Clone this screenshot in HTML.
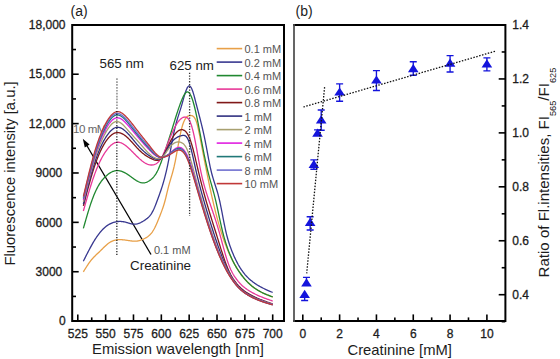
<!DOCTYPE html>
<html><head><meta charset="utf-8"><style>html,body{margin:0;padding:0;background:#fff;width:560px;height:359px;overflow:hidden}</style></head>
<body><svg width="560" height="359" viewBox="0 0 560 359" style="display:block;font-family:'Liberation Sans', sans-serif">
<rect width="560" height="359" fill="#fff"/>
<line x1="151" y1="254.5" x2="86.5" y2="145" stroke="#000" stroke-width="1.3"/>
<path d="M82.8 138.8 L89.6 144.6 L84.8 147.4 Z" fill="#000"/>
<text x="72.90" y="132.60" font-size="11.6" text-anchor="start" fill="#666" letter-spacing="-0.45">10 mM</text>
<path d="M83.37 271.81 L83.93 270.91 L84.48 270.02 L85.04 269.13 L85.60 268.24 L86.15 267.37 L86.71 266.50 L87.27 265.65 L87.82 264.81 L88.38 263.99 L88.94 263.19 L89.49 262.41 L90.05 261.65 L90.61 260.91 L91.16 260.21 L91.72 259.53 L92.28 258.87 L92.83 258.24 L93.39 257.64 L93.95 257.05 L94.51 256.48 L95.06 255.92 L95.62 255.38 L96.18 254.84 L96.73 254.31 L97.29 253.79 L97.85 253.27 L98.40 252.75 L98.96 252.22 L99.52 251.69 L100.07 251.15 L100.63 250.61 L101.19 250.05 L101.74 249.49 L102.30 248.93 L102.86 248.37 L103.42 247.81 L103.97 247.26 L104.53 246.71 L105.09 246.18 L105.64 245.66 L106.20 245.15 L106.76 244.66 L107.31 244.19 L107.87 243.75 L108.43 243.33 L108.98 242.93 L109.54 242.56 L110.10 242.22 L110.65 241.90 L111.21 241.60 L111.77 241.33 L112.32 241.08 L112.88 240.85 L113.44 240.64 L114.00 240.46 L114.55 240.29 L115.11 240.15 L115.67 240.02 L116.22 239.92 L116.78 239.83 L117.34 239.76 L117.89 239.71 L118.45 239.67 L119.01 239.64 L119.56 239.63 L120.12 239.63 L120.68 239.64 L121.23 239.67 L121.79 239.70 L122.35 239.74 L122.90 239.79 L123.46 239.84 L124.02 239.91 L124.58 239.97 L125.13 240.05 L125.69 240.12 L126.25 240.20 L126.80 240.29 L127.36 240.37 L127.92 240.46 L128.47 240.54 L129.03 240.63 L129.59 240.71 L130.14 240.79 L130.70 240.86 L131.26 240.93 L131.81 240.99 L132.37 241.05 L132.93 241.09 L133.48 241.13 L134.04 241.15 L134.60 241.16 L135.16 241.16 L135.71 241.14 L136.27 241.11 L136.83 241.06 L137.38 240.99 L137.94 240.90 L138.50 240.79 L139.05 240.66 L139.61 240.52 L140.17 240.35 L140.72 240.17 L141.28 239.98 L141.84 239.76 L142.39 239.53 L142.95 239.29 L143.51 239.04 L144.07 238.77 L144.62 238.50 L145.18 238.21 L145.74 237.91 L146.29 237.59 L146.85 237.25 L147.41 236.88 L147.96 236.48 L148.52 236.05 L149.08 235.58 L149.63 235.07 L150.19 234.51 L150.75 233.91 L151.30 233.25 L151.86 232.53 L152.42 231.76 L152.97 230.92 L153.53 230.00 L154.09 229.02 L154.65 227.97 L155.20 226.86 L155.76 225.70 L156.32 224.48 L156.87 223.21 L157.43 221.91 L157.99 220.57 L158.54 219.21 L159.10 217.82 L159.66 216.41 L160.21 215.00 L160.77 213.57 L161.33 212.12 L161.88 210.63 L162.44 209.08 L163.00 207.47 L163.55 205.77 L164.11 203.97 L164.67 202.05 L165.23 200.00 L165.78 197.81 L166.34 195.52 L166.90 193.19 L167.45 190.85 L168.01 188.56 L168.57 186.38 L169.12 184.31 L169.68 182.36 L170.24 180.47 L170.79 178.61 L171.35 176.76 L171.91 174.89 L172.46 172.95 L173.02 170.93 L173.58 168.77 L174.14 166.47 L174.69 163.97 L175.25 161.29 L175.81 158.45 L176.36 155.49 L176.92 152.45 L177.48 149.36 L178.03 146.26 L178.59 143.19 L179.15 140.19 L179.70 137.29 L180.26 134.52 L180.82 131.93 L181.37 129.55 L181.93 127.40 L182.49 125.48 L183.04 123.78 L183.60 122.27 L184.16 120.96 L184.72 119.82 L185.27 118.85 L185.83 118.03 L186.39 117.35 L186.94 116.79 L187.50 116.36 L188.06 116.03 L188.61 115.79 L189.17 115.62 L189.73 115.53 L190.28 115.49 L190.84 115.50 L191.40 115.55 L191.95 115.66 L192.51 115.87 L193.07 116.20 L193.62 116.66 L194.18 117.28 L194.74 118.08 L195.30 119.10 L195.85 120.34 L196.41 121.83 L196.97 123.60 L197.52 125.66 L198.08 127.98 L198.64 130.50 L199.19 133.18 L199.75 135.98 L200.31 138.84 L200.86 141.73 L201.42 144.62 L201.98 147.52 L202.53 150.41 L203.09 153.29 L203.65 156.17 L204.20 159.05 L204.76 161.91 L205.32 164.75 L205.88 167.59 L206.43 170.40 L206.99 173.19 L207.55 175.97 L208.10 178.71 L208.66 181.43 L209.22 184.12 L209.77 186.78 L210.33 189.40 L210.89 191.99 L211.44 194.54 L212.00 197.05 L212.56 199.51 L213.11 201.93 L213.67 204.31 L214.23 206.64 L214.79 208.92 L215.34 211.16 L215.90 213.36 L216.46 215.51 L217.01 217.62 L217.57 219.68 L218.13 221.70 L218.68 223.68 L219.24 225.61 L219.80 227.50 L220.35 229.35 L220.91 231.16 L221.47 232.93 L222.02 234.66 L222.58 236.34 L223.14 237.99 L223.69 239.59 L224.25 241.16 L224.81 242.69 L225.37 244.18 L225.92 245.63 L226.48 247.06 L227.04 248.44 L227.59 249.79 L228.15 251.12 L228.71 252.40 L229.26 253.66 L229.82 254.89 L230.38 256.09 L230.93 257.26 L231.49 258.41 L232.05 259.52 L232.60 260.62 L233.16 261.68 L233.72 262.72 L234.27 263.74 L234.83 264.73 L235.39 265.70 L235.95 266.65 L236.50 267.58 L237.06 268.48 L237.62 269.36 L238.17 270.23 L238.73 271.07 L239.29 271.90 L239.84 272.70 L240.40 273.49 L240.96 274.26 L241.51 275.01 L242.07 275.75 L242.63 276.46 L243.18 277.16 L243.74 277.84 L244.30 278.51 L244.85 279.16 L245.41 279.79 L245.97 280.41 L246.53 281.01 L247.08 281.60 L247.64 282.17 L248.20 282.72 L248.75 283.26 L249.31 283.79 L249.87 284.30 L250.42 284.80 L250.98 285.28 L251.54 285.75 L252.09 286.21 L252.65 286.65 L253.21 287.08 L253.76 287.50 L254.32 287.91 L254.88 288.31 L255.44 288.70 L255.99 289.07 L256.55 289.44 L257.11 289.79 L257.66 290.14 L258.22 290.47 L258.78 290.80 L259.33 291.12 L259.89 291.43 L260.45 291.73 L261.00 292.02 L261.56 292.31 L262.12 292.59 L262.67 292.87 L263.23 293.13 L263.79 293.40 L264.34 293.65 L264.90 293.90 L265.46 294.15 L266.02 294.39 L266.57 294.63 L267.13 294.86 L267.69 295.09 L268.24 295.32 L268.80 295.55 L269.36 295.77 L269.91 295.99 L270.47 296.21 L271.03 296.42 L271.58 296.64 L272.14 296.86 L272.70 297.07" fill="none" stroke="#e8a048" stroke-width="1.3" stroke-linejoin="round"/>
<path d="M83.37 261.19 L83.93 260.08 L84.48 258.97 L85.04 257.86 L85.60 256.76 L86.15 255.65 L86.71 254.56 L87.27 253.47 L87.82 252.39 L88.38 251.31 L88.94 250.25 L89.49 249.19 L90.05 248.15 L90.61 247.12 L91.16 246.11 L91.72 245.10 L92.28 244.12 L92.83 243.15 L93.39 242.20 L93.95 241.27 L94.51 240.35 L95.06 239.46 L95.62 238.59 L96.18 237.75 L96.73 236.92 L97.29 236.11 L97.85 235.33 L98.40 234.57 L98.96 233.83 L99.52 233.12 L100.07 232.42 L100.63 231.75 L101.19 231.11 L101.74 230.48 L102.30 229.88 L102.86 229.30 L103.42 228.74 L103.97 228.21 L104.53 227.70 L105.09 227.21 L105.64 226.75 L106.20 226.31 L106.76 225.89 L107.31 225.50 L107.87 225.12 L108.43 224.77 L108.98 224.44 L109.54 224.13 L110.10 223.83 L110.65 223.56 L111.21 223.30 L111.77 223.07 L112.32 222.85 L112.88 222.65 L113.44 222.46 L114.00 222.30 L114.55 222.14 L115.11 222.01 L115.67 221.88 L116.22 221.78 L116.78 221.69 L117.34 221.61 L117.89 221.55 L118.45 221.50 L119.01 221.47 L119.56 221.45 L120.12 221.45 L120.68 221.46 L121.23 221.49 L121.79 221.53 L122.35 221.59 L122.90 221.66 L123.46 221.74 L124.02 221.84 L124.58 221.96 L125.13 222.08 L125.69 222.23 L126.25 222.38 L126.80 222.54 L127.36 222.70 L127.92 222.87 L128.47 223.04 L129.03 223.20 L129.59 223.36 L130.14 223.52 L130.70 223.66 L131.26 223.79 L131.81 223.91 L132.37 224.02 L132.93 224.10 L133.48 224.16 L134.04 224.20 L134.60 224.21 L135.16 224.19 L135.71 224.14 L136.27 224.06 L136.83 223.95 L137.38 223.82 L137.94 223.66 L138.50 223.48 L139.05 223.27 L139.61 223.04 L140.17 222.79 L140.72 222.53 L141.28 222.24 L141.84 221.94 L142.39 221.62 L142.95 221.29 L143.51 220.94 L144.07 220.59 L144.62 220.22 L145.18 219.85 L145.74 219.46 L146.29 219.06 L146.85 218.64 L147.41 218.19 L147.96 217.70 L148.52 217.18 L149.08 216.61 L149.63 216.00 L150.19 215.32 L150.75 214.59 L151.30 213.78 L151.86 212.90 L152.42 211.95 L152.97 210.91 L153.53 209.77 L154.09 208.55 L154.65 207.25 L155.20 205.88 L155.76 204.46 L156.32 203.00 L156.87 201.51 L157.43 200.00 L157.99 198.49 L158.54 196.98 L159.10 195.45 L159.66 193.90 L160.21 192.32 L160.77 190.70 L161.33 189.04 L161.88 187.34 L162.44 185.58 L163.00 183.75 L163.55 181.86 L164.11 179.88 L164.67 177.83 L165.23 175.68 L165.78 173.44 L166.34 171.09 L166.90 168.64 L167.45 166.06 L168.01 163.36 L168.57 160.55 L169.12 157.65 L169.68 154.68 L170.24 151.68 L170.79 148.65 L171.35 145.64 L171.91 142.65 L172.46 139.72 L173.02 136.87 L173.58 134.13 L174.14 131.51 L174.69 129.04 L175.25 126.73 L175.81 124.56 L176.36 122.50 L176.92 120.55 L177.48 118.68 L178.03 116.87 L178.59 115.11 L179.15 113.37 L179.70 111.63 L180.26 109.87 L180.82 108.09 L181.37 106.24 L181.93 104.33 L182.49 102.35 L183.04 100.33 L183.60 98.32 L184.16 96.36 L184.72 94.48 L185.27 92.72 L185.83 91.10 L186.39 89.67 L186.94 88.43 L187.50 87.41 L188.06 86.64 L188.61 86.13 L189.17 85.92 L189.73 86.02 L190.28 86.42 L190.84 87.11 L191.40 88.06 L191.95 89.26 L192.51 90.69 L193.07 92.33 L193.62 94.16 L194.18 96.14 L194.74 98.24 L195.30 100.41 L195.85 102.60 L196.41 104.76 L196.97 106.90 L197.52 109.03 L198.08 111.14 L198.64 113.25 L199.19 115.37 L199.75 117.51 L200.31 119.67 L200.86 121.86 L201.42 124.10 L201.98 126.39 L202.53 128.74 L203.09 131.15 L203.65 133.65 L204.20 136.22 L204.76 138.90 L205.32 141.67 L205.88 144.54 L206.43 147.47 L206.99 150.44 L207.55 153.41 L208.10 156.37 L208.66 159.29 L209.22 162.14 L209.77 164.89 L210.33 167.52 L210.89 170.00 L211.44 172.31 L212.00 174.47 L212.56 176.49 L213.11 178.41 L213.67 180.25 L214.23 182.02 L214.79 183.76 L215.34 185.48 L215.90 187.21 L216.46 188.97 L217.01 190.79 L217.57 192.68 L218.13 194.67 L218.68 196.79 L219.24 199.05 L219.80 201.48 L220.35 204.07 L220.91 206.79 L221.47 209.60 L222.02 212.48 L222.58 215.39 L223.14 218.30 L223.69 221.18 L224.25 224.00 L224.81 226.72 L225.37 229.31 L225.92 231.76 L226.48 234.06 L227.04 236.23 L227.59 238.28 L228.15 240.21 L228.71 242.05 L229.26 243.79 L229.82 245.44 L230.38 247.02 L230.93 248.53 L231.49 249.99 L232.05 251.40 L232.60 252.77 L233.16 254.10 L233.72 255.40 L234.27 256.66 L234.83 257.88 L235.39 259.07 L235.95 260.22 L236.50 261.33 L237.06 262.42 L237.62 263.46 L238.17 264.48 L238.73 265.46 L239.29 266.41 L239.84 267.33 L240.40 268.22 L240.96 269.08 L241.51 269.91 L242.07 270.71 L242.63 271.48 L243.18 272.23 L243.74 272.95 L244.30 273.65 L244.85 274.32 L245.41 274.97 L245.97 275.59 L246.53 276.20 L247.08 276.79 L247.64 277.35 L248.20 277.90 L248.75 278.43 L249.31 278.94 L249.87 279.44 L250.42 279.92 L250.98 280.39 L251.54 280.85 L252.09 281.29 L252.65 281.73 L253.21 282.15 L253.76 282.56 L254.32 282.96 L254.88 283.36 L255.44 283.74 L255.99 284.11 L256.55 284.48 L257.11 284.83 L257.66 285.18 L258.22 285.52 L258.78 285.85 L259.33 286.17 L259.89 286.49 L260.45 286.80 L261.00 287.10 L261.56 287.40 L262.12 287.69 L262.67 287.97 L263.23 288.25 L263.79 288.52 L264.34 288.79 L264.90 289.06 L265.46 289.32 L266.02 289.58 L266.57 289.83 L267.13 290.08 L267.69 290.33 L268.24 290.57 L268.80 290.81 L269.36 291.05 L269.91 291.29 L270.47 291.53 L271.03 291.76 L271.58 292.00 L272.14 292.23 L272.70 292.46" fill="none" stroke="#383890" stroke-width="1.3" stroke-linejoin="round"/>
<path d="M83.37 228.39 L83.93 226.43 L84.48 224.47 L85.04 222.52 L85.60 220.58 L86.15 218.66 L86.71 216.75 L87.27 214.86 L87.82 213.00 L88.38 211.17 L88.94 209.36 L89.49 207.59 L90.05 205.86 L90.61 204.17 L91.16 202.53 L91.72 200.93 L92.28 199.39 L92.83 197.90 L93.39 196.47 L93.95 195.08 L94.51 193.75 L95.06 192.47 L95.62 191.24 L96.18 190.06 L96.73 188.92 L97.29 187.83 L97.85 186.79 L98.40 185.80 L98.96 184.85 L99.52 183.94 L100.07 183.08 L100.63 182.26 L101.19 181.48 L101.74 180.73 L102.30 180.02 L102.86 179.34 L103.42 178.70 L103.97 178.09 L104.53 177.50 L105.09 176.94 L105.64 176.41 L106.20 175.89 L106.76 175.40 L107.31 174.93 L107.87 174.48 L108.43 174.05 L108.98 173.65 L109.54 173.26 L110.10 172.90 L110.65 172.57 L111.21 172.25 L111.77 171.97 L112.32 171.71 L112.88 171.47 L113.44 171.26 L114.00 171.08 L114.55 170.93 L115.11 170.80 L115.67 170.71 L116.22 170.64 L116.78 170.60 L117.34 170.59 L117.89 170.61 L118.45 170.65 L119.01 170.72 L119.56 170.81 L120.12 170.93 L120.68 171.07 L121.23 171.23 L121.79 171.41 L122.35 171.62 L122.90 171.84 L123.46 172.09 L124.02 172.35 L124.58 172.63 L125.13 172.92 L125.69 173.23 L126.25 173.56 L126.80 173.90 L127.36 174.26 L127.92 174.62 L128.47 175.00 L129.03 175.39 L129.59 175.79 L130.14 176.19 L130.70 176.60 L131.26 177.01 L131.81 177.42 L132.37 177.83 L132.93 178.24 L133.48 178.64 L134.04 179.03 L134.60 179.42 L135.16 179.80 L135.71 180.16 L136.27 180.51 L136.83 180.84 L137.38 181.16 L137.94 181.45 L138.50 181.73 L139.05 181.98 L139.61 182.20 L140.17 182.40 L140.72 182.57 L141.28 182.71 L141.84 182.81 L142.39 182.88 L142.95 182.91 L143.51 182.91 L144.07 182.86 L144.62 182.78 L145.18 182.66 L145.74 182.50 L146.29 182.30 L146.85 182.08 L147.41 181.82 L147.96 181.53 L148.52 181.21 L149.08 180.87 L149.63 180.50 L150.19 180.10 L150.75 179.69 L151.30 179.24 L151.86 178.77 L152.42 178.25 L152.97 177.69 L153.53 177.09 L154.09 176.43 L154.65 175.71 L155.20 174.93 L155.76 174.08 L156.32 173.16 L156.87 172.16 L157.43 171.07 L157.99 169.91 L158.54 168.68 L159.10 167.38 L159.66 166.02 L160.21 164.62 L160.77 163.16 L161.33 161.67 L161.88 160.15 L162.44 158.59 L163.00 157.02 L163.55 155.43 L164.11 153.82 L164.67 152.19 L165.23 150.54 L165.78 148.87 L166.34 147.19 L166.90 145.49 L167.45 143.78 L168.01 142.05 L168.57 140.32 L169.12 138.56 L169.68 136.80 L170.24 135.03 L170.79 133.24 L171.35 131.45 L171.91 129.65 L172.46 127.84 L173.02 126.02 L173.58 124.21 L174.14 122.40 L174.69 120.60 L175.25 118.81 L175.81 117.04 L176.36 115.28 L176.92 113.55 L177.48 111.84 L178.03 110.16 L178.59 108.52 L179.15 106.91 L179.70 105.34 L180.26 103.82 L180.82 102.35 L181.37 100.93 L181.93 99.56 L182.49 98.26 L183.04 97.04 L183.60 95.91 L184.16 94.89 L184.72 94.00 L185.27 93.24 L185.83 92.64 L186.39 92.20 L186.94 91.95 L187.50 91.90 L188.06 92.03 L188.61 92.36 L189.17 92.87 L189.73 93.57 L190.28 94.45 L190.84 95.51 L191.40 96.75 L191.95 98.17 L192.51 99.76 L193.07 101.52 L193.62 103.45 L194.18 105.52 L194.74 107.73 L195.30 110.06 L195.85 112.51 L196.41 115.06 L196.97 117.70 L197.52 120.42 L198.08 123.20 L198.64 126.03 L199.19 128.91 L199.75 131.81 L200.31 134.73 L200.86 137.66 L201.42 140.58 L201.98 143.48 L202.53 146.36 L203.09 149.20 L203.65 152.01 L204.20 154.77 L204.76 157.48 L205.32 160.13 L205.88 162.72 L206.43 165.23 L206.99 167.66 L207.55 170.00 L208.10 172.25 L208.66 174.42 L209.22 176.53 L209.77 178.58 L210.33 180.59 L210.89 182.57 L211.44 184.54 L212.00 186.51 L212.56 188.49 L213.11 190.50 L213.67 192.55 L214.23 194.66 L214.79 196.83 L215.34 199.08 L215.90 201.42 L216.46 203.85 L217.01 206.35 L217.57 208.91 L218.13 211.51 L218.68 214.12 L219.24 216.74 L219.80 219.34 L220.35 221.91 L220.91 224.44 L221.47 226.90 L222.02 229.27 L222.58 231.55 L223.14 233.74 L223.69 235.84 L224.25 237.86 L224.81 239.80 L225.37 241.66 L225.92 243.44 L226.48 245.16 L227.04 246.81 L227.59 248.40 L228.15 249.93 L228.71 251.41 L229.26 252.84 L229.82 254.22 L230.38 255.55 L230.93 256.83 L231.49 258.07 L232.05 259.27 L232.60 260.43 L233.16 261.55 L233.72 262.64 L234.27 263.69 L234.83 264.70 L235.39 265.69 L235.95 266.65 L236.50 267.58 L237.06 268.49 L237.62 269.37 L238.17 270.23 L238.73 271.07 L239.29 271.89 L239.84 272.70 L240.40 273.48 L240.96 274.25 L241.51 275.00 L242.07 275.74 L242.63 276.45 L243.18 277.15 L243.74 277.84 L244.30 278.50 L244.85 279.15 L245.41 279.79 L245.97 280.40 L246.53 281.01 L247.08 281.59 L247.64 282.16 L248.20 282.72 L248.75 283.26 L249.31 283.79 L249.87 284.30 L250.42 284.80 L250.98 285.28 L251.54 285.75 L252.09 286.21 L252.65 286.65 L253.21 287.08 L253.76 287.50 L254.32 287.90 L254.88 288.30 L255.44 288.68 L255.99 289.05 L256.55 289.42 L257.11 289.77 L257.66 290.11 L258.22 290.44 L258.78 290.77 L259.33 291.08 L259.89 291.39 L260.45 291.68 L261.00 291.98 L261.56 292.26 L262.12 292.53 L262.67 292.80 L263.23 293.07 L263.79 293.32 L264.34 293.57 L264.90 293.82 L265.46 294.06 L266.02 294.30 L266.57 294.53 L267.13 294.76 L267.69 294.98 L268.24 295.20 L268.80 295.42 L269.36 295.64 L269.91 295.85 L270.47 296.07 L271.03 296.28 L271.58 296.49 L272.14 296.70 L272.70 296.91" fill="none" stroke="#208830" stroke-width="1.3" stroke-linejoin="round"/>
<path d="M83.37 211.00 L83.93 209.04 L84.48 207.08 L85.04 205.13 L85.60 203.18 L86.15 201.24 L86.71 199.31 L87.27 197.40 L87.82 195.50 L88.38 193.61 L88.94 191.75 L89.49 189.91 L90.05 188.09 L90.61 186.29 L91.16 184.53 L91.72 182.79 L92.28 181.08 L92.83 179.41 L93.39 177.78 L93.95 176.18 L94.51 174.62 L95.06 173.11 L95.62 171.64 L96.18 170.21 L96.73 168.81 L97.29 167.46 L97.85 166.15 L98.40 164.88 L98.96 163.64 L99.52 162.45 L100.07 161.29 L100.63 160.16 L101.19 159.08 L101.74 158.02 L102.30 157.00 L102.86 156.02 L103.42 155.07 L103.97 154.15 L104.53 153.26 L105.09 152.41 L105.64 151.58 L106.20 150.79 L106.76 150.02 L107.31 149.29 L107.87 148.59 L108.43 147.93 L108.98 147.29 L109.54 146.69 L110.10 146.13 L110.65 145.60 L111.21 145.11 L111.77 144.65 L112.32 144.23 L112.88 143.85 L113.44 143.51 L114.00 143.20 L114.55 142.94 L115.11 142.72 L115.67 142.54 L116.22 142.40 L116.78 142.30 L117.34 142.25 L117.89 142.23 L118.45 142.26 L119.01 142.33 L119.56 142.44 L120.12 142.58 L120.68 142.75 L121.23 142.96 L121.79 143.20 L122.35 143.47 L122.90 143.76 L123.46 144.09 L124.02 144.44 L124.58 144.81 L125.13 145.21 L125.69 145.62 L126.25 146.06 L126.80 146.51 L127.36 146.98 L127.92 147.47 L128.47 147.97 L129.03 148.48 L129.59 149.00 L130.14 149.53 L130.70 150.07 L131.26 150.62 L131.81 151.17 L132.37 151.73 L132.93 152.29 L133.48 152.86 L134.04 153.42 L134.60 153.99 L135.16 154.55 L135.71 155.11 L136.27 155.67 L136.83 156.22 L137.38 156.77 L137.94 157.31 L138.50 157.83 L139.05 158.35 L139.61 158.86 L140.17 159.36 L140.72 159.84 L141.28 160.31 L141.84 160.76 L142.39 161.19 L142.95 161.60 L143.51 162.00 L144.07 162.38 L144.62 162.73 L145.18 163.06 L145.74 163.37 L146.29 163.66 L146.85 163.92 L147.41 164.16 L147.96 164.37 L148.52 164.55 L149.08 164.70 L149.63 164.83 L150.19 164.92 L150.75 164.99 L151.30 165.02 L151.86 165.01 L152.42 164.98 L152.97 164.91 L153.53 164.80 L154.09 164.65 L154.65 164.47 L155.20 164.24 L155.76 163.97 L156.32 163.64 L156.87 163.27 L157.43 162.84 L157.99 162.35 L158.54 161.80 L159.10 161.18 L159.66 160.49 L160.21 159.74 L160.77 158.91 L161.33 158.00 L161.88 157.02 L162.44 155.96 L163.00 154.83 L163.55 153.64 L164.11 152.41 L164.67 151.12 L165.23 149.80 L165.78 148.45 L166.34 147.07 L166.90 145.68 L167.45 144.27 L168.01 142.86 L168.57 141.46 L169.12 140.06 L169.68 138.68 L170.24 137.33 L170.79 135.99 L171.35 134.68 L171.91 133.40 L172.46 132.15 L173.02 130.94 L173.58 129.76 L174.14 128.62 L174.69 127.52 L175.25 126.47 L175.81 125.46 L176.36 124.51 L176.92 123.60 L177.48 122.76 L178.03 121.97 L178.59 121.23 L179.15 120.55 L179.70 119.93 L180.26 119.37 L180.82 118.87 L181.37 118.43 L181.93 118.04 L182.49 117.72 L183.04 117.45 L183.60 117.25 L184.16 117.10 L184.72 117.02 L185.27 117.02 L185.83 117.10 L186.39 117.28 L186.94 117.56 L187.50 117.97 L188.06 118.51 L188.61 119.20 L189.17 120.05 L189.73 121.06 L190.28 122.26 L190.84 123.65 L191.40 125.25 L191.95 127.06 L192.51 129.07 L193.07 131.28 L193.62 133.66 L194.18 136.20 L194.74 138.88 L195.30 141.70 L195.85 144.64 L196.41 147.65 L196.97 150.73 L197.52 153.83 L198.08 156.94 L198.64 160.03 L199.19 163.07 L199.75 166.03 L200.31 168.89 L200.86 171.62 L201.42 174.22 L201.98 176.68 L202.53 179.03 L203.09 181.28 L203.65 183.42 L204.20 185.47 L204.76 187.44 L205.32 189.34 L205.88 191.17 L206.43 192.94 L206.99 194.67 L207.55 196.37 L208.10 198.03 L208.66 199.67 L209.22 201.31 L209.77 202.93 L210.33 204.56 L210.89 206.18 L211.44 207.80 L212.00 209.42 L212.56 211.05 L213.11 212.69 L213.67 214.35 L214.23 216.01 L214.79 217.70 L215.34 219.40 L215.90 221.13 L216.46 222.88 L217.01 224.67 L217.57 226.48 L218.13 228.32 L218.68 230.20 L219.24 232.12 L219.80 234.09 L220.35 236.09 L220.91 238.12 L221.47 240.17 L222.02 242.24 L222.58 244.30 L223.14 246.36 L223.69 248.41 L224.25 250.43 L224.81 252.42 L225.37 254.36 L225.92 256.25 L226.48 258.08 L227.04 259.84 L227.59 261.52 L228.15 263.12 L228.71 264.63 L229.26 266.06 L229.82 267.42 L230.38 268.71 L230.93 269.93 L231.49 271.08 L232.05 272.18 L232.60 273.22 L233.16 274.21 L233.72 275.15 L234.27 276.04 L234.83 276.90 L235.39 277.71 L235.95 278.49 L236.50 279.25 L237.06 279.97 L237.62 280.67 L238.17 281.35 L238.73 282.00 L239.29 282.63 L239.84 283.23 L240.40 283.82 L240.96 284.38 L241.51 284.92 L242.07 285.45 L242.63 285.95 L243.18 286.44 L243.74 286.91 L244.30 287.37 L244.85 287.81 L245.41 288.23 L245.97 288.64 L246.53 289.04 L247.08 289.43 L247.64 289.80 L248.20 290.17 L248.75 290.53 L249.31 290.87 L249.87 291.21 L250.42 291.54 L250.98 291.87 L251.54 292.19 L252.09 292.50 L252.65 292.81 L253.21 293.11 L253.76 293.40 L254.32 293.69 L254.88 293.97 L255.44 294.25 L255.99 294.52 L256.55 294.78 L257.11 295.04 L257.66 295.30 L258.22 295.55 L258.78 295.80 L259.33 296.04 L259.89 296.28 L260.45 296.51 L261.00 296.75 L261.56 296.97 L262.12 297.20 L262.67 297.42 L263.23 297.63 L263.79 297.85 L264.34 298.06 L264.90 298.27 L265.46 298.48 L266.02 298.68 L266.57 298.88 L267.13 299.08 L267.69 299.28 L268.24 299.48 L268.80 299.67 L269.36 299.87 L269.91 300.06 L270.47 300.26 L271.03 300.45 L271.58 300.64 L272.14 300.83 L272.70 301.02" fill="none" stroke="#e83898" stroke-width="1.3" stroke-linejoin="round"/>
<path d="M83.37 205.89 L83.93 203.76 L84.48 201.64 L85.04 199.52 L85.60 197.40 L86.15 195.29 L86.71 193.20 L87.27 191.12 L87.82 189.06 L88.38 187.01 L88.94 184.99 L89.49 182.98 L90.05 181.01 L90.61 179.06 L91.16 177.14 L91.72 175.26 L92.28 173.40 L92.83 171.59 L93.39 169.82 L93.95 168.08 L94.51 166.39 L95.06 164.75 L95.62 163.16 L96.18 161.60 L96.73 160.10 L97.29 158.64 L97.85 157.22 L98.40 155.84 L98.96 154.51 L99.52 153.22 L100.07 151.97 L100.63 150.77 L101.19 149.60 L101.74 148.48 L102.30 147.40 L102.86 146.35 L103.42 145.35 L103.97 144.38 L104.53 143.45 L105.09 142.56 L105.64 141.71 L106.20 140.89 L106.76 140.11 L107.31 139.37 L107.87 138.66 L108.43 138.00 L108.98 137.36 L109.54 136.77 L110.10 136.22 L110.65 135.70 L111.21 135.22 L111.77 134.79 L112.32 134.39 L112.88 134.02 L113.44 133.70 L114.00 133.42 L114.55 133.18 L115.11 132.97 L115.67 132.81 L116.22 132.69 L116.78 132.61 L117.34 132.56 L117.89 132.56 L118.45 132.60 L119.01 132.67 L119.56 132.78 L120.12 132.93 L120.68 133.10 L121.23 133.32 L121.79 133.56 L122.35 133.83 L122.90 134.13 L123.46 134.47 L124.02 134.82 L124.58 135.21 L125.13 135.62 L125.69 136.05 L126.25 136.51 L126.80 136.99 L127.36 137.49 L127.92 138.00 L128.47 138.54 L129.03 139.09 L129.59 139.66 L130.14 140.24 L130.70 140.84 L131.26 141.44 L131.81 142.05 L132.37 142.67 L132.93 143.29 L133.48 143.91 L134.04 144.54 L134.60 145.16 L135.16 145.78 L135.71 146.40 L136.27 147.02 L136.83 147.62 L137.38 148.22 L137.94 148.80 L138.50 149.38 L139.05 149.94 L139.61 150.48 L140.17 151.01 L140.72 151.52 L141.28 152.02 L141.84 152.50 L142.39 152.97 L142.95 153.42 L143.51 153.86 L144.07 154.29 L144.62 154.70 L145.18 155.10 L145.74 155.48 L146.29 155.86 L146.85 156.22 L147.41 156.57 L147.96 156.90 L148.52 157.23 L149.08 157.54 L149.63 157.85 L150.19 158.14 L150.75 158.42 L151.30 158.69 L151.86 158.95 L152.42 159.20 L152.97 159.44 L153.53 159.67 L154.09 159.88 L154.65 160.05 L155.20 160.20 L155.76 160.31 L156.32 160.38 L156.87 160.40 L157.43 160.37 L157.99 160.28 L158.54 160.12 L159.10 159.89 L159.66 159.59 L160.21 159.20 L160.77 158.73 L161.33 158.17 L161.88 157.51 L162.44 156.76 L163.00 155.93 L163.55 155.03 L164.11 154.06 L164.67 153.04 L165.23 151.97 L165.78 150.87 L166.34 149.74 L166.90 148.58 L167.45 147.42 L168.01 146.25 L168.57 145.08 L169.12 143.93 L169.68 142.80 L170.24 141.71 L170.79 140.65 L171.35 139.63 L171.91 138.66 L172.46 137.72 L173.02 136.84 L173.58 135.99 L174.14 135.20 L174.69 134.45 L175.25 133.75 L175.81 133.11 L176.36 132.51 L176.92 131.97 L177.48 131.48 L178.03 131.05 L178.59 130.67 L179.15 130.35 L179.70 130.09 L180.26 129.89 L180.82 129.76 L181.37 129.68 L181.93 129.67 L182.49 129.72 L183.04 129.84 L183.60 130.04 L184.16 130.31 L184.72 130.67 L185.27 131.12 L185.83 131.66 L186.39 132.30 L186.94 133.04 L187.50 133.90 L188.06 134.86 L188.61 135.95 L189.17 137.17 L189.73 138.51 L190.28 140.00 L190.84 141.62 L191.40 143.37 L191.95 145.23 L192.51 147.20 L193.07 149.27 L193.62 151.41 L194.18 153.62 L194.74 155.89 L195.30 158.20 L195.85 160.55 L196.41 162.91 L196.97 165.28 L197.52 167.65 L198.08 170.00 L198.64 172.32 L199.19 174.62 L199.75 176.88 L200.31 179.12 L200.86 181.33 L201.42 183.51 L201.98 185.66 L202.53 187.79 L203.09 189.89 L203.65 191.97 L204.20 194.01 L204.76 196.03 L205.32 198.03 L205.88 200.00 L206.43 201.95 L206.99 203.87 L207.55 205.77 L208.10 207.65 L208.66 209.51 L209.22 211.36 L209.77 213.19 L210.33 215.01 L210.89 216.81 L211.44 218.61 L212.00 220.39 L212.56 222.17 L213.11 223.94 L213.67 225.71 L214.23 227.48 L214.79 229.25 L215.34 231.01 L215.90 232.79 L216.46 234.56 L217.01 236.34 L217.57 238.13 L218.13 239.92 L218.68 241.72 L219.24 243.51 L219.80 245.29 L220.35 247.07 L220.91 248.84 L221.47 250.59 L222.02 252.32 L222.58 254.03 L223.14 255.72 L223.69 257.38 L224.25 259.01 L224.81 260.60 L225.37 262.16 L225.92 263.67 L226.48 265.14 L227.04 266.57 L227.59 267.94 L228.15 269.26 L228.71 270.52 L229.26 271.73 L229.82 272.88 L230.38 273.99 L230.93 275.04 L231.49 276.05 L232.05 277.02 L232.60 277.94 L233.16 278.83 L233.72 279.67 L234.27 280.48 L234.83 281.26 L235.39 282.00 L235.95 282.72 L236.50 283.41 L237.06 284.07 L237.62 284.71 L238.17 285.33 L238.73 285.93 L239.29 286.50 L239.84 287.06 L240.40 287.59 L240.96 288.11 L241.51 288.61 L242.07 289.10 L242.63 289.56 L243.18 290.01 L243.74 290.45 L244.30 290.87 L244.85 291.28 L245.41 291.67 L245.97 292.06 L246.53 292.43 L247.08 292.79 L247.64 293.14 L248.20 293.48 L248.75 293.81 L249.31 294.14 L249.87 294.46 L250.42 294.77 L250.98 295.07 L251.54 295.37 L252.09 295.67 L252.65 295.95 L253.21 296.24 L253.76 296.52 L254.32 296.79 L254.88 297.06 L255.44 297.32 L255.99 297.58 L256.55 297.83 L257.11 298.09 L257.66 298.33 L258.22 298.57 L258.78 298.81 L259.33 299.05 L259.89 299.28 L260.45 299.51 L261.00 299.73 L261.56 299.96 L262.12 300.18 L262.67 300.39 L263.23 300.61 L263.79 300.82 L264.34 301.03 L264.90 301.23 L265.46 301.44 L266.02 301.64 L266.57 301.84 L267.13 302.04 L267.69 302.24 L268.24 302.44 L268.80 302.63 L269.36 302.83 L269.91 303.02 L270.47 303.22 L271.03 303.41 L271.58 303.60 L272.14 303.79 L272.70 303.98" fill="none" stroke="#801818" stroke-width="1.3" stroke-linejoin="round"/>
<path d="M83.37 204.25 L83.93 202.02 L84.48 199.80 L85.04 197.58 L85.60 195.37 L86.15 193.17 L86.71 190.98 L87.27 188.81 L87.82 186.66 L88.38 184.52 L88.94 182.41 L89.49 180.32 L90.05 178.26 L90.61 176.24 L91.16 174.24 L91.72 172.28 L92.28 170.36 L92.83 168.48 L93.39 166.64 L93.95 164.85 L94.51 163.10 L95.06 161.41 L95.62 159.76 L96.18 158.17 L96.73 156.62 L97.29 155.12 L97.85 153.66 L98.40 152.25 L98.96 150.89 L99.52 149.56 L100.07 148.28 L100.63 147.04 L101.19 145.85 L101.74 144.69 L102.30 143.57 L102.86 142.48 L103.42 141.43 L103.97 140.42 L104.53 139.45 L105.09 138.50 L105.64 137.59 L106.20 136.72 L106.76 135.87 L107.31 135.06 L107.87 134.28 L108.43 133.54 L108.98 132.84 L109.54 132.17 L110.10 131.54 L110.65 130.95 L111.21 130.40 L111.77 129.89 L112.32 129.42 L112.88 129.00 L113.44 128.62 L114.00 128.28 L114.55 127.99 L115.11 127.75 L115.67 127.55 L116.22 127.41 L116.78 127.31 L117.34 127.26 L117.89 127.26 L118.45 127.30 L119.01 127.39 L119.56 127.53 L120.12 127.70 L120.68 127.92 L121.23 128.17 L121.79 128.46 L122.35 128.79 L122.90 129.15 L123.46 129.54 L124.02 129.96 L124.58 130.41 L125.13 130.88 L125.69 131.38 L126.25 131.90 L126.80 132.45 L127.36 133.01 L127.92 133.59 L128.47 134.19 L129.03 134.81 L129.59 135.43 L130.14 136.07 L130.70 136.72 L131.26 137.38 L131.81 138.04 L132.37 138.71 L132.93 139.38 L133.48 140.06 L134.04 140.74 L134.60 141.42 L135.16 142.09 L135.71 142.77 L136.27 143.43 L136.83 144.09 L137.38 144.75 L137.94 145.39 L138.50 146.02 L139.05 146.65 L139.61 147.25 L140.17 147.84 L140.72 148.42 L141.28 148.99 L141.84 149.54 L142.39 150.08 L142.95 150.60 L143.51 151.11 L144.07 151.61 L144.62 152.10 L145.18 152.57 L145.74 153.03 L146.29 153.47 L146.85 153.90 L147.41 154.32 L147.96 154.73 L148.52 155.12 L149.08 155.50 L149.63 155.87 L150.19 156.23 L150.75 156.57 L151.30 156.90 L151.86 157.22 L152.42 157.52 L152.97 157.82 L153.53 158.10 L154.09 158.37 L154.65 158.62 L155.20 158.85 L155.76 159.04 L156.32 159.20 L156.87 159.32 L157.43 159.39 L157.99 159.40 L158.54 159.36 L159.10 159.24 L159.66 159.06 L160.21 158.79 L160.77 158.44 L161.33 158.00 L161.88 157.47 L162.44 156.84 L163.00 156.14 L163.55 155.37 L164.11 154.54 L164.67 153.66 L165.23 152.73 L165.78 151.78 L166.34 150.81 L166.90 149.82 L167.45 148.83 L168.01 147.85 L168.57 146.88 L169.12 145.94 L169.68 145.04 L170.24 144.18 L170.79 143.37 L171.35 142.61 L171.91 141.90 L172.46 141.25 L173.02 140.63 L173.58 140.07 L174.14 139.54 L174.69 139.06 L175.25 138.61 L175.81 138.20 L176.36 137.82 L176.92 137.48 L177.48 137.17 L178.03 136.89 L178.59 136.63 L179.15 136.40 L179.70 136.19 L180.26 136.00 L180.82 135.84 L181.37 135.68 L181.93 135.55 L182.49 135.44 L183.04 135.36 L183.60 135.35 L184.16 135.41 L184.72 135.56 L185.27 135.83 L185.83 136.23 L186.39 136.77 L186.94 137.49 L187.50 138.39 L188.06 139.49 L188.61 140.82 L189.17 142.36 L189.73 144.10 L190.28 146.01 L190.84 148.07 L191.40 150.26 L191.95 152.57 L192.51 154.96 L193.07 157.42 L193.62 159.93 L194.18 162.46 L194.74 165.00 L195.30 167.52 L195.85 170.00 L196.41 172.42 L196.97 174.79 L197.52 177.10 L198.08 179.37 L198.64 181.58 L199.19 183.76 L199.75 185.89 L200.31 187.99 L200.86 190.05 L201.42 192.09 L201.98 194.10 L202.53 196.08 L203.09 198.05 L203.65 200.00 L204.20 201.94 L204.76 203.87 L205.32 205.78 L205.88 207.68 L206.43 209.57 L206.99 211.45 L207.55 213.31 L208.10 215.16 L208.66 217.00 L209.22 218.82 L209.77 220.64 L210.33 222.43 L210.89 224.22 L211.44 225.99 L212.00 227.75 L212.56 229.50 L213.11 231.23 L213.67 232.95 L214.23 234.65 L214.79 236.34 L215.34 238.02 L215.90 239.68 L216.46 241.33 L217.01 242.96 L217.57 244.57 L218.13 246.17 L218.68 247.75 L219.24 249.30 L219.80 250.84 L220.35 252.36 L220.91 253.85 L221.47 255.32 L222.02 256.77 L222.58 258.19 L223.14 259.59 L223.69 260.96 L224.25 262.31 L224.81 263.63 L225.37 264.91 L225.92 266.17 L226.48 267.40 L227.04 268.60 L227.59 269.77 L228.15 270.90 L228.71 272.00 L229.26 273.07 L229.82 274.11 L230.38 275.11 L230.93 276.08 L231.49 277.03 L232.05 277.94 L232.60 278.82 L233.16 279.68 L233.72 280.50 L234.27 281.30 L234.83 282.07 L235.39 282.81 L235.95 283.53 L236.50 284.22 L237.06 284.89 L237.62 285.54 L238.17 286.16 L238.73 286.75 L239.29 287.33 L239.84 287.88 L240.40 288.42 L240.96 288.93 L241.51 289.43 L242.07 289.90 L242.63 290.36 L243.18 290.81 L243.74 291.24 L244.30 291.65 L244.85 292.05 L245.41 292.43 L245.97 292.80 L246.53 293.17 L247.08 293.52 L247.64 293.85 L248.20 294.18 L248.75 294.51 L249.31 294.82 L249.87 295.13 L250.42 295.43 L250.98 295.72 L251.54 296.01 L252.09 296.29 L252.65 296.57 L253.21 296.84 L253.76 297.11 L254.32 297.37 L254.88 297.63 L255.44 297.89 L255.99 298.14 L256.55 298.38 L257.11 298.63 L257.66 298.86 L258.22 299.10 L258.78 299.33 L259.33 299.55 L259.89 299.78 L260.45 300.00 L261.00 300.22 L261.56 300.43 L262.12 300.64 L262.67 300.85 L263.23 301.06 L263.79 301.26 L264.34 301.46 L264.90 301.66 L265.46 301.86 L266.02 302.05 L266.57 302.25 L267.13 302.44 L267.69 302.63 L268.24 302.82 L268.80 303.01 L269.36 303.20 L269.91 303.39 L270.47 303.57 L271.03 303.76 L271.58 303.94 L272.14 304.13 L272.70 304.31" fill="none" stroke="#303080" stroke-width="1.3" stroke-linejoin="round"/>
<path d="M83.37 201.78 L83.93 199.52 L84.48 197.27 L85.04 195.02 L85.60 192.77 L86.15 190.54 L86.71 188.32 L87.27 186.11 L87.82 183.92 L88.38 181.75 L88.94 179.60 L89.49 177.48 L90.05 175.38 L90.61 173.30 L91.16 171.26 L91.72 169.26 L92.28 167.29 L92.83 165.36 L93.39 163.46 L93.95 161.61 L94.51 159.81 L95.06 158.06 L95.62 156.35 L96.18 154.68 L96.73 153.07 L97.29 151.49 L97.85 149.96 L98.40 148.48 L98.96 147.03 L99.52 145.63 L100.07 144.26 L100.63 142.94 L101.19 141.65 L101.74 140.40 L102.30 139.19 L102.86 138.02 L103.42 136.88 L103.97 135.77 L104.53 134.70 L105.09 133.66 L105.64 132.66 L106.20 131.68 L106.76 130.74 L107.31 129.83 L107.87 128.96 L108.43 128.13 L108.98 127.33 L109.54 126.58 L110.10 125.88 L110.65 125.22 L111.21 124.60 L111.77 124.04 L112.32 123.53 L112.88 123.07 L113.44 122.66 L114.00 122.32 L114.55 122.03 L115.11 121.80 L115.67 121.63 L116.22 121.53 L116.78 121.50 L117.34 121.53 L117.89 121.62 L118.45 121.78 L119.01 121.99 L119.56 122.26 L120.12 122.58 L120.68 122.94 L121.23 123.35 L121.79 123.79 L122.35 124.27 L122.90 124.78 L123.46 125.32 L124.02 125.88 L124.58 126.47 L125.13 127.07 L125.69 127.68 L126.25 128.31 L126.80 128.94 L127.36 129.57 L127.92 130.20 L128.47 130.83 L129.03 131.46 L129.59 132.08 L130.14 132.69 L130.70 133.31 L131.26 133.92 L131.81 134.53 L132.37 135.14 L132.93 135.75 L133.48 136.36 L134.04 136.97 L134.60 137.58 L135.16 138.19 L135.71 138.80 L136.27 139.41 L136.83 140.03 L137.38 140.65 L137.94 141.27 L138.50 141.90 L139.05 142.53 L139.61 143.17 L140.17 143.81 L140.72 144.45 L141.28 145.10 L141.84 145.74 L142.39 146.38 L142.95 147.02 L143.51 147.66 L144.07 148.29 L144.62 148.92 L145.18 149.54 L145.74 150.14 L146.29 150.74 L146.85 151.33 L147.41 151.91 L147.96 152.47 L148.52 153.01 L149.08 153.54 L149.63 154.06 L150.19 154.55 L150.75 155.02 L151.30 155.47 L151.86 155.90 L152.42 156.31 L152.97 156.69 L153.53 157.04 L154.09 157.37 L154.65 157.66 L155.20 157.93 L155.76 158.17 L156.32 158.37 L156.87 158.53 L157.43 158.65 L157.99 158.72 L158.54 158.74 L159.10 158.70 L159.66 158.59 L160.21 158.42 L160.77 158.17 L161.33 157.84 L161.88 157.42 L162.44 156.93 L163.00 156.37 L163.55 155.75 L164.11 155.07 L164.67 154.36 L165.23 153.61 L165.78 152.83 L166.34 152.03 L166.90 151.22 L167.45 150.41 L168.01 149.61 L168.57 148.83 L169.12 148.06 L169.68 147.33 L170.24 146.65 L170.79 146.00 L171.35 145.41 L171.91 144.86 L172.46 144.37 L173.02 143.92 L173.58 143.51 L174.14 143.16 L174.69 142.85 L175.25 142.58 L175.81 142.37 L176.36 142.19 L176.92 142.06 L177.48 141.98 L178.03 141.94 L178.59 141.94 L179.15 141.98 L179.70 142.07 L180.26 142.20 L180.82 142.37 L181.37 142.59 L181.93 142.86 L182.49 143.19 L183.04 143.60 L183.60 144.08 L184.16 144.65 L184.72 145.32 L185.27 146.09 L185.83 146.97 L186.39 147.98 L186.94 149.11 L187.50 150.39 L188.06 151.79 L188.61 153.30 L189.17 154.93 L189.73 156.65 L190.28 158.45 L190.84 160.33 L191.40 162.27 L191.95 164.26 L192.51 166.29 L193.07 168.36 L193.62 170.44 L194.18 172.53 L194.74 174.62 L195.30 176.70 L195.85 178.77 L196.41 180.82 L196.97 182.86 L197.52 184.89 L198.08 186.90 L198.64 188.91 L199.19 190.90 L199.75 192.88 L200.31 194.85 L200.86 196.80 L201.42 198.75 L201.98 200.68 L202.53 202.60 L203.09 204.51 L203.65 206.41 L204.20 208.30 L204.76 210.17 L205.32 212.04 L205.88 213.88 L206.43 215.72 L206.99 217.54 L207.55 219.34 L208.10 221.12 L208.66 222.90 L209.22 224.65 L209.77 226.38 L210.33 228.10 L210.89 229.80 L211.44 231.48 L212.00 233.14 L212.56 234.77 L213.11 236.39 L213.67 237.99 L214.23 239.56 L214.79 241.11 L215.34 242.64 L215.90 244.15 L216.46 245.63 L217.01 247.10 L217.57 248.54 L218.13 249.96 L218.68 251.36 L219.24 252.73 L219.80 254.09 L220.35 255.42 L220.91 256.74 L221.47 258.03 L222.02 259.30 L222.58 260.55 L223.14 261.77 L223.69 262.98 L224.25 264.17 L224.81 265.33 L225.37 266.48 L225.92 267.60 L226.48 268.70 L227.04 269.79 L227.59 270.85 L228.15 271.89 L228.71 272.91 L229.26 273.91 L229.82 274.89 L230.38 275.85 L230.93 276.79 L231.49 277.70 L232.05 278.59 L232.60 279.46 L233.16 280.31 L233.72 281.13 L234.27 281.93 L234.83 282.70 L235.39 283.45 L235.95 284.18 L236.50 284.88 L237.06 285.55 L237.62 286.20 L238.17 286.82 L238.73 287.42 L239.29 288.00 L239.84 288.55 L240.40 289.08 L240.96 289.59 L241.51 290.08 L242.07 290.55 L242.63 291.01 L243.18 291.44 L243.74 291.86 L244.30 292.27 L244.85 292.65 L245.41 293.03 L245.97 293.39 L246.53 293.74 L247.08 294.08 L247.64 294.41 L248.20 294.73 L248.75 295.04 L249.31 295.34 L249.87 295.63 L250.42 295.92 L250.98 296.20 L251.54 296.48 L252.09 296.75 L252.65 297.02 L253.21 297.28 L253.76 297.54 L254.32 297.79 L254.88 298.04 L255.44 298.29 L255.99 298.53 L256.55 298.76 L257.11 299.00 L257.66 299.23 L258.22 299.45 L258.78 299.67 L259.33 299.89 L259.89 300.11 L260.45 300.32 L261.00 300.53 L261.56 300.73 L262.12 300.94 L262.67 301.14 L263.23 301.34 L263.79 301.53 L264.34 301.73 L264.90 301.92 L265.46 302.11 L266.02 302.30 L266.57 302.49 L267.13 302.67 L267.69 302.86 L268.24 303.04 L268.80 303.22 L269.36 303.40 L269.91 303.58 L270.47 303.76 L271.03 303.94 L271.58 304.12 L272.14 304.30 L272.70 304.48" fill="none" stroke="#a8a070" stroke-width="1.3" stroke-linejoin="round"/>
<path d="M83.37 200.13 L83.93 197.84 L84.48 195.55 L85.04 193.26 L85.60 190.98 L86.15 188.70 L86.71 186.44 L87.27 184.20 L87.82 181.97 L88.38 179.76 L88.94 177.57 L89.49 175.40 L90.05 173.26 L90.61 171.15 L91.16 169.06 L91.72 167.01 L92.28 165.00 L92.83 163.02 L93.39 161.09 L93.95 159.19 L94.51 157.34 L95.06 155.54 L95.62 153.78 L96.18 152.07 L96.73 150.40 L97.29 148.78 L97.85 147.20 L98.40 145.67 L98.96 144.18 L99.52 142.73 L100.07 141.32 L100.63 139.95 L101.19 138.62 L101.74 137.33 L102.30 136.08 L102.86 134.87 L103.42 133.70 L103.97 132.56 L104.53 131.46 L105.09 130.39 L105.64 129.36 L106.20 128.37 L106.76 127.41 L107.31 126.49 L107.87 125.61 L108.43 124.76 L108.98 123.96 L109.54 123.20 L110.10 122.49 L110.65 121.82 L111.21 121.19 L111.77 120.62 L112.32 120.09 L112.88 119.61 L113.44 119.19 L114.00 118.81 L114.55 118.50 L115.11 118.23 L115.67 118.03 L116.22 117.88 L116.78 117.79 L117.34 117.77 L117.89 117.80 L118.45 117.89 L119.01 118.03 L119.56 118.22 L120.12 118.45 L120.68 118.73 L121.23 119.06 L121.79 119.42 L122.35 119.82 L122.90 120.26 L123.46 120.72 L124.02 121.22 L124.58 121.74 L125.13 122.28 L125.69 122.84 L126.25 123.43 L126.80 124.02 L127.36 124.63 L127.92 125.25 L128.47 125.88 L129.03 126.51 L129.59 127.15 L130.14 127.79 L130.70 128.44 L131.26 129.09 L131.81 129.75 L132.37 130.41 L132.93 131.08 L133.48 131.74 L134.04 132.41 L134.60 133.08 L135.16 133.75 L135.71 134.42 L136.27 135.09 L136.83 135.76 L137.38 136.43 L137.94 137.09 L138.50 137.76 L139.05 138.42 L139.61 139.07 L140.17 139.73 L140.72 140.38 L141.28 141.02 L141.84 141.67 L142.39 142.31 L142.95 142.94 L143.51 143.57 L144.07 144.20 L144.62 144.82 L145.18 145.44 L145.74 146.05 L146.29 146.65 L146.85 147.26 L147.41 147.85 L147.96 148.45 L148.52 149.03 L149.08 149.61 L149.63 150.19 L150.19 150.76 L150.75 151.32 L151.30 151.88 L151.86 152.42 L152.42 152.95 L152.97 153.47 L153.53 153.97 L154.09 154.45 L154.65 154.90 L155.20 155.33 L155.76 155.73 L156.32 156.10 L156.87 156.44 L157.43 156.74 L157.99 157.01 L158.54 157.23 L159.10 157.42 L159.66 157.55 L160.21 157.64 L160.77 157.68 L161.33 157.67 L161.88 157.61 L162.44 157.49 L163.00 157.33 L163.55 157.13 L164.11 156.90 L164.67 156.63 L165.23 156.34 L165.78 156.03 L166.34 155.70 L166.90 155.35 L167.45 154.99 L168.01 154.61 L168.57 154.21 L169.12 153.79 L169.68 153.36 L170.24 152.90 L170.79 152.42 L171.35 151.93 L171.91 151.44 L172.46 150.94 L173.02 150.45 L173.58 149.98 L174.14 149.53 L174.69 149.11 L175.25 148.73 L175.81 148.39 L176.36 148.09 L176.92 147.84 L177.48 147.64 L178.03 147.49 L178.59 147.40 L179.15 147.37 L179.70 147.40 L180.26 147.50 L180.82 147.67 L181.37 147.91 L181.93 148.23 L182.49 148.62 L183.04 149.10 L183.60 149.66 L184.16 150.30 L184.72 151.03 L185.27 151.85 L185.83 152.76 L186.39 153.77 L186.94 154.87 L187.50 156.08 L188.06 157.38 L188.61 158.76 L189.17 160.23 L189.73 161.77 L190.28 163.37 L190.84 165.04 L191.40 166.77 L191.95 168.54 L192.51 170.36 L193.07 172.21 L193.62 174.09 L194.18 175.99 L194.74 177.92 L195.30 179.85 L195.85 181.79 L196.41 183.73 L196.97 185.68 L197.52 187.64 L198.08 189.59 L198.64 191.55 L199.19 193.50 L199.75 195.45 L200.31 197.39 L200.86 199.33 L201.42 201.25 L201.98 203.17 L202.53 205.07 L203.09 206.96 L203.65 208.83 L204.20 210.69 L204.76 212.53 L205.32 214.36 L205.88 216.17 L206.43 217.96 L206.99 219.74 L207.55 221.50 L208.10 223.24 L208.66 224.96 L209.22 226.67 L209.77 228.36 L210.33 230.03 L210.89 231.68 L211.44 233.31 L212.00 234.92 L212.56 236.51 L213.11 238.08 L213.67 239.63 L214.23 241.16 L214.79 242.67 L215.34 244.16 L215.90 245.62 L216.46 247.07 L217.01 248.49 L217.57 249.90 L218.13 251.28 L218.68 252.64 L219.24 253.98 L219.80 255.30 L220.35 256.60 L220.91 257.88 L221.47 259.13 L222.02 260.37 L222.58 261.58 L223.14 262.77 L223.69 263.94 L224.25 265.09 L224.81 266.22 L225.37 267.33 L225.92 268.42 L226.48 269.48 L227.04 270.53 L227.59 271.55 L228.15 272.55 L228.71 273.53 L229.26 274.49 L229.82 275.42 L230.38 276.34 L230.93 277.24 L231.49 278.11 L232.05 278.96 L232.60 279.79 L233.16 280.60 L233.72 281.39 L234.27 282.15 L234.83 282.90 L235.39 283.62 L235.95 284.32 L236.50 285.00 L237.06 285.65 L237.62 286.29 L238.17 286.90 L238.73 287.50 L239.29 288.07 L239.84 288.62 L240.40 289.15 L240.96 289.67 L241.51 290.16 L242.07 290.64 L242.63 291.10 L243.18 291.55 L243.74 291.98 L244.30 292.39 L244.85 292.79 L245.41 293.18 L245.97 293.55 L246.53 293.92 L247.08 294.27 L247.64 294.61 L248.20 294.94 L248.75 295.26 L249.31 295.57 L249.87 295.88 L250.42 296.17 L250.98 296.46 L251.54 296.75 L252.09 297.03 L252.65 297.30 L253.21 297.56 L253.76 297.83 L254.32 298.08 L254.88 298.33 L255.44 298.58 L255.99 298.82 L256.55 299.06 L257.11 299.29 L257.66 299.52 L258.22 299.75 L258.78 299.97 L259.33 300.18 L259.89 300.40 L260.45 300.61 L261.00 300.81 L261.56 301.02 L262.12 301.22 L262.67 301.41 L263.23 301.61 L263.79 301.80 L264.34 301.99 L264.90 302.18 L265.46 302.36 L266.02 302.54 L266.57 302.72 L267.13 302.90 L267.69 303.08 L268.24 303.26 L268.80 303.43 L269.36 303.61 L269.91 303.78 L270.47 303.96 L271.03 304.13 L271.58 304.30 L272.14 304.47 L272.70 304.64" fill="none" stroke="#e020e0" stroke-width="1.3" stroke-linejoin="round"/>
<path d="M83.37 198.49 L83.93 196.20 L84.48 193.92 L85.04 191.65 L85.60 189.38 L86.15 187.12 L86.71 184.86 L87.27 182.63 L87.82 180.40 L88.38 178.20 L88.94 176.01 L89.49 173.85 L90.05 171.71 L90.61 169.59 L91.16 167.51 L91.72 165.45 L92.28 163.43 L92.83 161.44 L93.39 159.48 L93.95 157.57 L94.51 155.70 L95.06 153.87 L95.62 152.08 L96.18 150.34 L96.73 148.63 L97.29 146.97 L97.85 145.35 L98.40 143.78 L98.96 142.24 L99.52 140.75 L100.07 139.29 L100.63 137.88 L101.19 136.50 L101.74 135.17 L102.30 133.87 L102.86 132.61 L103.42 131.39 L103.97 130.21 L104.53 129.07 L105.09 127.96 L105.64 126.90 L106.20 125.87 L106.76 124.87 L107.31 123.92 L107.87 123.01 L108.43 122.14 L108.98 121.31 L109.54 120.53 L110.10 119.79 L110.65 119.10 L111.21 118.46 L111.77 117.87 L112.32 117.33 L112.88 116.85 L113.44 116.41 L114.00 116.03 L114.55 115.71 L115.11 115.44 L115.67 115.23 L116.22 115.08 L116.78 115.00 L117.34 114.97 L117.89 115.00 L118.45 115.10 L119.01 115.24 L119.56 115.44 L120.12 115.68 L120.68 115.98 L121.23 116.31 L121.79 116.69 L122.35 117.10 L122.90 117.55 L123.46 118.04 L124.02 118.55 L124.58 119.09 L125.13 119.66 L125.69 120.25 L126.25 120.86 L126.80 121.49 L127.36 122.13 L127.92 122.78 L128.47 123.44 L129.03 124.11 L129.59 124.79 L130.14 125.48 L130.70 126.17 L131.26 126.87 L131.81 127.57 L132.37 128.27 L132.93 128.98 L133.48 129.69 L134.04 130.41 L134.60 131.12 L135.16 131.83 L135.71 132.55 L136.27 133.26 L136.83 133.97 L137.38 134.68 L137.94 135.38 L138.50 136.08 L139.05 136.77 L139.61 137.46 L140.17 138.14 L140.72 138.82 L141.28 139.49 L141.84 140.15 L142.39 140.81 L142.95 141.47 L143.51 142.12 L144.07 142.77 L144.62 143.41 L145.18 144.05 L145.74 144.68 L146.29 145.31 L146.85 145.93 L147.41 146.55 L147.96 147.17 L148.52 147.78 L149.08 148.40 L149.63 149.00 L150.19 149.61 L150.75 150.21 L151.30 150.80 L151.86 151.39 L152.42 151.97 L152.97 152.53 L153.53 153.08 L154.09 153.61 L154.65 154.11 L155.20 154.59 L155.76 155.05 L156.32 155.47 L156.87 155.86 L157.43 156.22 L157.99 156.54 L158.54 156.82 L159.10 157.05 L159.66 157.24 L160.21 157.38 L160.77 157.47 L161.33 157.51 L161.88 157.49 L162.44 157.42 L163.00 157.30 L163.55 157.14 L164.11 156.94 L164.67 156.72 L165.23 156.46 L165.78 156.19 L166.34 155.90 L166.90 155.60 L167.45 155.27 L168.01 154.93 L168.57 154.58 L169.12 154.20 L169.68 153.81 L170.24 153.39 L170.79 152.96 L171.35 152.51 L171.91 152.06 L172.46 151.61 L173.02 151.16 L173.58 150.73 L174.14 150.32 L174.69 149.94 L175.25 149.59 L175.81 149.27 L176.36 149.00 L176.92 148.78 L177.48 148.60 L178.03 148.48 L178.59 148.42 L179.15 148.42 L179.70 148.49 L180.26 148.62 L180.82 148.83 L181.37 149.11 L181.93 149.47 L182.49 149.91 L183.04 150.44 L183.60 151.04 L184.16 151.73 L184.72 152.51 L185.27 153.37 L185.83 154.33 L186.39 155.38 L186.94 156.52 L187.50 157.76 L188.06 159.08 L188.61 160.49 L189.17 161.98 L189.73 163.54 L190.28 165.15 L190.84 166.83 L191.40 168.55 L191.95 170.32 L192.51 172.12 L193.07 173.95 L193.62 175.81 L194.18 177.68 L194.74 179.56 L195.30 181.45 L195.85 183.33 L196.41 185.22 L196.97 187.11 L197.52 189.00 L198.08 190.89 L198.64 192.78 L199.19 194.66 L199.75 196.55 L200.31 198.42 L200.86 200.30 L201.42 202.17 L201.98 204.04 L202.53 205.89 L203.09 207.75 L203.65 209.59 L204.20 211.42 L204.76 213.25 L205.32 215.07 L205.88 216.87 L206.43 218.66 L206.99 220.44 L207.55 222.21 L208.10 223.96 L208.66 225.69 L209.22 227.41 L209.77 229.11 L210.33 230.79 L210.89 232.46 L211.44 234.10 L212.00 235.72 L212.56 237.32 L213.11 238.90 L213.67 240.46 L214.23 241.99 L214.79 243.49 L215.34 244.98 L215.90 246.44 L216.46 247.87 L217.01 249.28 L217.57 250.67 L218.13 252.04 L218.68 253.38 L219.24 254.70 L219.80 256.00 L220.35 257.27 L220.91 258.53 L221.47 259.76 L222.02 260.97 L222.58 262.15 L223.14 263.32 L223.69 264.47 L224.25 265.59 L224.81 266.69 L225.37 267.77 L225.92 268.84 L226.48 269.88 L227.04 270.90 L227.59 271.90 L228.15 272.88 L228.71 273.84 L229.26 274.78 L229.82 275.70 L230.38 276.60 L230.93 277.48 L231.49 278.34 L232.05 279.19 L232.60 280.01 L233.16 280.81 L233.72 281.58 L234.27 282.34 L234.83 283.08 L235.39 283.80 L235.95 284.49 L236.50 285.17 L237.06 285.82 L237.62 286.46 L238.17 287.07 L238.73 287.66 L239.29 288.23 L239.84 288.78 L240.40 289.31 L240.96 289.82 L241.51 290.32 L242.07 290.79 L242.63 291.26 L243.18 291.70 L243.74 292.13 L244.30 292.55 L244.85 292.95 L245.41 293.34 L245.97 293.71 L246.53 294.08 L247.08 294.43 L247.64 294.77 L248.20 295.10 L248.75 295.42 L249.31 295.74 L249.87 296.04 L250.42 296.34 L250.98 296.63 L251.54 296.91 L252.09 297.19 L252.65 297.46 L253.21 297.73 L253.76 297.99 L254.32 298.25 L254.88 298.50 L255.44 298.74 L255.99 298.98 L256.55 299.22 L257.11 299.45 L257.66 299.68 L258.22 299.90 L258.78 300.12 L259.33 300.33 L259.89 300.54 L260.45 300.75 L261.00 300.96 L261.56 301.16 L262.12 301.35 L262.67 301.55 L263.23 301.74 L263.79 301.93 L264.34 302.12 L264.90 302.30 L265.46 302.48 L266.02 302.66 L266.57 302.84 L267.13 303.02 L267.69 303.19 L268.24 303.37 L268.80 303.54 L269.36 303.71 L269.91 303.88 L270.47 304.05 L271.03 304.22 L271.58 304.39 L272.14 304.56 L272.70 304.72" fill="none" stroke="#207878" stroke-width="1.3" stroke-linejoin="round"/>
<path d="M83.37 197.67 L83.93 195.33 L84.48 193.00 L85.04 190.67 L85.60 188.35 L86.15 186.04 L86.71 183.74 L87.27 181.45 L87.82 179.18 L88.38 176.93 L88.94 174.70 L89.49 172.49 L90.05 170.31 L90.61 168.16 L91.16 166.03 L91.72 163.94 L92.28 161.89 L92.83 159.87 L93.39 157.89 L93.95 155.95 L94.51 154.05 L95.06 152.20 L95.62 150.40 L96.18 148.64 L96.73 146.93 L97.29 145.26 L97.85 143.63 L98.40 142.05 L98.96 140.51 L99.52 139.02 L100.07 137.57 L100.63 136.15 L101.19 134.78 L101.74 133.45 L102.30 132.16 L102.86 130.91 L103.42 129.70 L103.97 128.53 L104.53 127.40 L105.09 126.31 L105.64 125.25 L106.20 124.23 L106.76 123.25 L107.31 122.31 L107.87 121.41 L108.43 120.55 L108.98 119.73 L109.54 118.96 L110.10 118.23 L110.65 117.55 L111.21 116.92 L111.77 116.34 L112.32 115.81 L112.88 115.33 L113.44 114.90 L114.00 114.52 L114.55 114.20 L115.11 113.94 L115.67 113.73 L116.22 113.59 L116.78 113.50 L117.34 113.47 L117.89 113.50 L118.45 113.59 L119.01 113.73 L119.56 113.92 L120.12 114.16 L120.68 114.44 L121.23 114.77 L121.79 115.14 L122.35 115.54 L122.90 115.98 L123.46 116.46 L124.02 116.96 L124.58 117.50 L125.13 118.05 L125.69 118.64 L126.25 119.24 L126.80 119.85 L127.36 120.49 L127.92 121.14 L128.47 121.79 L129.03 122.46 L129.59 123.13 L130.14 123.81 L130.70 124.50 L131.26 125.20 L131.81 125.90 L132.37 126.60 L132.93 127.31 L133.48 128.02 L134.04 128.74 L134.60 129.45 L135.16 130.17 L135.71 130.88 L136.27 131.60 L136.83 132.31 L137.38 133.02 L137.94 133.73 L138.50 134.43 L139.05 135.12 L139.61 135.82 L140.17 136.50 L140.72 137.18 L141.28 137.86 L141.84 138.53 L142.39 139.20 L142.95 139.86 L143.51 140.52 L144.07 141.17 L144.62 141.83 L145.18 142.48 L145.74 143.13 L146.29 143.78 L146.85 144.42 L147.41 145.07 L147.96 145.71 L148.52 146.36 L149.08 147.00 L149.63 147.65 L150.19 148.29 L150.75 148.94 L151.30 149.58 L151.86 150.22 L152.42 150.85 L152.97 151.47 L153.53 152.07 L154.09 152.66 L154.65 153.23 L155.20 153.77 L155.76 154.29 L156.32 154.78 L156.87 155.23 L157.43 155.65 L157.99 156.04 L158.54 156.38 L159.10 156.67 L159.66 156.92 L160.21 157.11 L160.77 157.26 L161.33 157.34 L161.88 157.37 L162.44 157.34 L163.00 157.27 L163.55 157.15 L164.11 156.99 L164.67 156.80 L165.23 156.59 L165.78 156.36 L166.34 156.10 L166.90 155.84 L167.45 155.56 L168.01 155.26 L168.57 154.94 L169.12 154.61 L169.68 154.26 L170.24 153.89 L170.79 153.50 L171.35 153.10 L171.91 152.69 L172.46 152.28 L173.02 151.87 L173.58 151.48 L174.14 151.11 L174.69 150.76 L175.25 150.44 L175.81 150.16 L176.36 149.91 L176.92 149.71 L177.48 149.55 L178.03 149.45 L178.59 149.40 L179.15 149.40 L179.70 149.47 L180.26 149.61 L180.82 149.81 L181.37 150.09 L181.93 150.44 L182.49 150.87 L183.04 151.37 L183.60 151.96 L184.16 152.63 L184.72 153.39 L185.27 154.24 L185.83 155.18 L186.39 156.21 L186.94 157.34 L187.50 158.57 L188.06 159.89 L188.61 161.29 L189.17 162.77 L189.73 164.33 L190.28 165.94 L190.84 167.62 L191.40 169.34 L191.95 171.11 L192.51 172.92 L193.07 174.76 L193.62 176.62 L194.18 178.50 L194.74 180.38 L195.30 182.28 L195.85 184.17 L196.41 186.06 L196.97 187.96 L197.52 189.85 L198.08 191.75 L198.64 193.64 L199.19 195.52 L199.75 197.40 L200.31 199.28 L200.86 201.15 L201.42 203.02 L201.98 204.87 L202.53 206.72 L203.09 208.55 L203.65 210.38 L204.20 212.19 L204.76 214.00 L205.32 215.79 L205.88 217.56 L206.43 219.33 L206.99 221.08 L207.55 222.82 L208.10 224.54 L208.66 226.24 L209.22 227.93 L209.77 229.60 L210.33 231.26 L210.89 232.89 L211.44 234.51 L212.00 236.11 L212.56 237.69 L213.11 239.25 L213.67 240.78 L214.23 242.30 L214.79 243.80 L215.34 245.27 L215.90 246.72 L216.46 248.15 L217.01 249.56 L217.57 250.95 L218.13 252.32 L218.68 253.66 L219.24 254.99 L219.80 256.29 L220.35 257.57 L220.91 258.82 L221.47 260.06 L222.02 261.28 L222.58 262.47 L223.14 263.64 L223.69 264.79 L224.25 265.92 L224.81 267.03 L225.37 268.11 L225.92 269.17 L226.48 270.21 L227.04 271.23 L227.59 272.23 L228.15 273.21 L228.71 274.16 L229.26 275.09 L229.82 276.00 L230.38 276.89 L230.93 277.76 L231.49 278.61 L232.05 279.43 L232.60 280.23 L233.16 281.02 L233.72 281.78 L234.27 282.52 L234.83 283.24 L235.39 283.94 L235.95 284.62 L236.50 285.28 L237.06 285.92 L237.62 286.54 L238.17 287.14 L238.73 287.72 L239.29 288.29 L239.84 288.83 L240.40 289.35 L240.96 289.86 L241.51 290.35 L242.07 290.83 L242.63 291.29 L243.18 291.74 L243.74 292.17 L244.30 292.58 L244.85 292.99 L245.41 293.38 L245.97 293.76 L246.53 294.12 L247.08 294.48 L247.64 294.82 L248.20 295.16 L248.75 295.49 L249.31 295.80 L249.87 296.11 L250.42 296.41 L250.98 296.71 L251.54 297.00 L252.09 297.28 L252.65 297.55 L253.21 297.82 L253.76 298.09 L254.32 298.34 L254.88 298.60 L255.44 298.85 L255.99 299.09 L256.55 299.32 L257.11 299.56 L257.66 299.79 L258.22 300.01 L258.78 300.23 L259.33 300.44 L259.89 300.66 L260.45 300.86 L261.00 301.07 L261.56 301.27 L262.12 301.46 L262.67 301.66 L263.23 301.85 L263.79 302.04 L264.34 302.22 L264.90 302.41 L265.46 302.59 L266.02 302.77 L266.57 302.94 L267.13 303.12 L267.69 303.29 L268.24 303.46 L268.80 303.64 L269.36 303.80 L269.91 303.97 L270.47 304.14 L271.03 304.31 L271.58 304.47 L272.14 304.64 L272.70 304.81" fill="none" stroke="#7070d0" stroke-width="1.3" stroke-linejoin="round"/>
<path d="M83.37 196.51 L83.93 194.15 L84.48 191.78 L85.04 189.43 L85.60 187.07 L86.15 184.73 L86.71 182.40 L87.27 180.09 L87.82 177.79 L88.38 175.51 L88.94 173.25 L89.49 171.02 L90.05 168.81 L90.61 166.64 L91.16 164.49 L91.72 162.38 L92.28 160.30 L92.83 158.26 L93.39 156.27 L93.95 154.31 L94.51 152.41 L95.06 150.55 L95.62 148.73 L96.18 146.97 L96.73 145.25 L97.29 143.58 L97.85 141.95 L98.40 140.37 L98.96 138.83 L99.52 137.33 L100.07 135.88 L100.63 134.47 L101.19 133.10 L101.74 131.78 L102.30 130.49 L102.86 129.25 L103.42 128.04 L103.97 126.88 L104.53 125.75 L105.09 124.66 L105.64 123.60 L106.20 122.59 L106.76 121.61 L107.31 120.67 L107.87 119.77 L108.43 118.91 L108.98 118.10 L109.54 117.33 L110.10 116.60 L110.65 115.91 L111.21 115.28 L111.77 114.69 L112.32 114.15 L112.88 113.66 L113.44 113.22 L114.00 112.83 L114.55 112.49 L115.11 112.21 L115.67 111.99 L116.22 111.82 L116.78 111.70 L117.34 111.65 L117.89 111.65 L118.45 111.71 L119.01 111.81 L119.56 111.97 L120.12 112.17 L120.68 112.42 L121.23 112.71 L121.79 113.04 L122.35 113.41 L122.90 113.81 L123.46 114.25 L124.02 114.71 L124.58 115.21 L125.13 115.73 L125.69 116.28 L126.25 116.85 L126.80 117.44 L127.36 118.05 L127.92 118.67 L128.47 119.30 L129.03 119.95 L129.59 120.60 L130.14 121.27 L130.70 121.95 L131.26 122.64 L131.81 123.33 L132.37 124.03 L132.93 124.74 L133.48 125.45 L134.04 126.16 L134.60 126.88 L135.16 127.60 L135.71 128.33 L136.27 129.05 L136.83 129.78 L137.38 130.50 L137.94 131.22 L138.50 131.94 L139.05 132.66 L139.61 133.37 L140.17 134.08 L140.72 134.78 L141.28 135.48 L141.84 136.18 L142.39 136.88 L142.95 137.57 L143.51 138.27 L144.07 138.96 L144.62 139.65 L145.18 140.34 L145.74 141.04 L146.29 141.73 L146.85 142.42 L147.41 143.12 L147.96 143.82 L148.52 144.52 L149.08 145.23 L149.63 145.93 L150.19 146.65 L150.75 147.36 L151.30 148.08 L151.86 148.79 L152.42 149.50 L152.97 150.20 L153.53 150.88 L154.09 151.55 L154.65 152.20 L155.20 152.82 L155.76 153.42 L156.32 153.99 L156.87 154.53 L157.43 155.02 L157.99 155.48 L158.54 155.89 L159.10 156.26 L159.66 156.57 L160.21 156.83 L160.77 157.04 L161.33 157.18 L161.88 157.26 L162.44 157.28 L163.00 157.24 L163.55 157.17 L164.11 157.05 L164.67 156.90 L165.23 156.72 L165.78 156.52 L166.34 156.31 L166.90 156.08 L167.45 155.83 L168.01 155.57 L168.57 155.30 L169.12 155.01 L169.68 154.70 L170.24 154.38 L170.79 154.04 L171.35 153.69 L171.91 153.33 L172.46 152.97 L173.02 152.61 L173.58 152.26 L174.14 151.91 L174.69 151.58 L175.25 151.27 L175.81 150.98 L176.36 150.72 L176.92 150.50 L177.48 150.32 L178.03 150.19 L178.59 150.11 L179.15 150.10 L179.70 150.15 L180.26 150.27 L180.82 150.46 L181.37 150.74 L181.93 151.10 L182.49 151.53 L183.04 152.06 L183.60 152.66 L184.16 153.36 L184.72 154.14 L185.27 155.01 L185.83 155.97 L186.39 157.02 L186.94 158.17 L187.50 159.40 L188.06 160.73 L188.61 162.14 L189.17 163.63 L189.73 165.18 L190.28 166.80 L190.84 168.47 L191.40 170.19 L191.95 171.96 L192.51 173.76 L193.07 175.59 L193.62 177.45 L194.18 179.32 L194.74 181.21 L195.30 183.10 L195.85 184.99 L196.41 186.89 L196.97 188.78 L197.52 190.68 L198.08 192.57 L198.64 194.47 L199.19 196.36 L199.75 198.24 L200.31 200.12 L200.86 201.99 L201.42 203.85 L201.98 205.70 L202.53 207.54 L203.09 209.37 L203.65 211.18 L204.20 212.99 L204.76 214.78 L205.32 216.55 L205.88 218.31 L206.43 220.06 L206.99 221.79 L207.55 223.51 L208.10 225.21 L208.66 226.90 L209.22 228.57 L209.77 230.22 L210.33 231.85 L210.89 233.47 L211.44 235.07 L212.00 236.65 L212.56 238.21 L213.11 239.76 L213.67 241.28 L214.23 242.78 L214.79 244.27 L215.34 245.73 L215.90 247.17 L216.46 248.59 L217.01 250.00 L217.57 251.38 L218.13 252.74 L218.68 254.08 L219.24 255.40 L219.80 256.70 L220.35 257.97 L220.91 259.23 L221.47 260.46 L222.02 261.67 L222.58 262.86 L223.14 264.03 L223.69 265.18 L224.25 266.30 L224.81 267.40 L225.37 268.48 L225.92 269.54 L226.48 270.57 L227.04 271.58 L227.59 272.57 L228.15 273.54 L228.71 274.48 L229.26 275.40 L229.82 276.29 L230.38 277.17 L230.93 278.02 L231.49 278.85 L232.05 279.66 L232.60 280.45 L233.16 281.22 L233.72 281.96 L234.27 282.69 L234.83 283.39 L235.39 284.08 L235.95 284.75 L236.50 285.39 L237.06 286.02 L237.62 286.63 L238.17 287.22 L238.73 287.79 L239.29 288.35 L239.84 288.88 L240.40 289.40 L240.96 289.91 L241.51 290.40 L242.07 290.87 L242.63 291.33 L243.18 291.78 L243.74 292.21 L244.30 292.62 L244.85 293.03 L245.41 293.42 L245.97 293.80 L246.53 294.17 L247.08 294.53 L247.64 294.88 L248.20 295.22 L248.75 295.55 L249.31 295.87 L249.87 296.19 L250.42 296.49 L250.98 296.79 L251.54 297.08 L252.09 297.37 L252.65 297.64 L253.21 297.92 L253.76 298.18 L254.32 298.44 L254.88 298.70 L255.44 298.95 L255.99 299.19 L256.55 299.43 L257.11 299.66 L257.66 299.89 L258.22 300.12 L258.78 300.34 L259.33 300.55 L259.89 300.76 L260.45 300.97 L261.00 301.17 L261.56 301.37 L262.12 301.57 L262.67 301.77 L263.23 301.96 L263.79 302.14 L264.34 302.33 L264.90 302.51 L265.46 302.69 L266.02 302.87 L266.57 303.04 L267.13 303.22 L267.69 303.39 L268.24 303.56 L268.80 303.73 L269.36 303.90 L269.91 304.06 L270.47 304.23 L271.03 304.40 L271.58 304.56 L272.14 304.72 L272.70 304.89" fill="none" stroke="#c03838" stroke-width="1.3" stroke-linejoin="round"/>
<line x1="116.95" y1="78.3" x2="116.95" y2="110" stroke="#8c8c8c" stroke-width="1.5" stroke-dasharray="1.7 1.2"/>
<line x1="116.85" y1="111" x2="116.85" y2="256.5" stroke="#111" stroke-width="1.2" stroke-dasharray="1.2 1.6"/>
<line x1="189.6" y1="72.7" x2="189.6" y2="216" stroke="#333" stroke-width="1.3" stroke-dasharray="1.3 1.5"/>
<path d="M72.20 25.00H284.00V320.90H72.20Z" fill="none" stroke="#000" stroke-width="2.0" stroke-linejoin="miter"/>
<path d="M293.2 25.0H505.4V320.9H293.2" fill="none" stroke="#000" stroke-width="2.0"/>
<line x1="294.0" y1="24" x2="294.0" y2="321.9" stroke="#4a4a4a" stroke-width="1.7"/>
<line x1="77.80" y1="320.9" x2="77.80" y2="314.40" stroke="#000" stroke-width="1.6"/>
<text x="77.80" y="337.90" font-size="12" text-anchor="middle" fill="#1c1c1c" stroke="#1c1c1c" stroke-width="0.3">525</text>
<line x1="91.72" y1="320.9" x2="91.72" y2="317.40" stroke="#000" stroke-width="1.6"/>
<line x1="105.64" y1="320.9" x2="105.64" y2="314.40" stroke="#000" stroke-width="1.6"/>
<text x="105.64" y="337.90" font-size="12" text-anchor="middle" fill="#1c1c1c" stroke="#1c1c1c" stroke-width="0.3">550</text>
<line x1="119.56" y1="320.9" x2="119.56" y2="317.40" stroke="#000" stroke-width="1.6"/>
<line x1="133.48" y1="320.9" x2="133.48" y2="314.40" stroke="#000" stroke-width="1.6"/>
<text x="133.48" y="337.90" font-size="12" text-anchor="middle" fill="#1c1c1c" stroke="#1c1c1c" stroke-width="0.3">575</text>
<line x1="147.41" y1="320.9" x2="147.41" y2="317.40" stroke="#000" stroke-width="1.6"/>
<line x1="161.33" y1="320.9" x2="161.33" y2="314.40" stroke="#000" stroke-width="1.6"/>
<text x="161.33" y="337.90" font-size="12" text-anchor="middle" fill="#1c1c1c" stroke="#1c1c1c" stroke-width="0.3">600</text>
<line x1="175.25" y1="320.9" x2="175.25" y2="317.40" stroke="#000" stroke-width="1.6"/>
<line x1="189.17" y1="320.9" x2="189.17" y2="314.40" stroke="#000" stroke-width="1.6"/>
<text x="189.17" y="337.90" font-size="12" text-anchor="middle" fill="#1c1c1c" stroke="#1c1c1c" stroke-width="0.3">625</text>
<line x1="203.09" y1="320.9" x2="203.09" y2="317.40" stroke="#000" stroke-width="1.6"/>
<line x1="217.01" y1="320.9" x2="217.01" y2="314.40" stroke="#000" stroke-width="1.6"/>
<text x="217.01" y="337.90" font-size="12" text-anchor="middle" fill="#1c1c1c" stroke="#1c1c1c" stroke-width="0.3">650</text>
<line x1="230.93" y1="320.9" x2="230.93" y2="317.40" stroke="#000" stroke-width="1.6"/>
<line x1="244.85" y1="320.9" x2="244.85" y2="314.40" stroke="#000" stroke-width="1.6"/>
<text x="244.85" y="337.90" font-size="12" text-anchor="middle" fill="#1c1c1c" stroke="#1c1c1c" stroke-width="0.3">675</text>
<line x1="258.78" y1="320.9" x2="258.78" y2="317.40" stroke="#000" stroke-width="1.6"/>
<line x1="272.70" y1="320.9" x2="272.70" y2="314.40" stroke="#000" stroke-width="1.6"/>
<text x="272.70" y="337.90" font-size="12" text-anchor="middle" fill="#1c1c1c" stroke="#1c1c1c" stroke-width="0.3">700</text>
<line x1="72.2" y1="321.10" x2="78.70" y2="321.10" stroke="#000" stroke-width="1.6"/>
<line x1="72.2" y1="296.41" x2="76.00" y2="296.41" stroke="#000" stroke-width="1.6"/>
<line x1="72.2" y1="271.73" x2="78.70" y2="271.73" stroke="#000" stroke-width="1.6"/>
<line x1="72.2" y1="247.04" x2="76.00" y2="247.04" stroke="#000" stroke-width="1.6"/>
<line x1="72.2" y1="222.35" x2="78.70" y2="222.35" stroke="#000" stroke-width="1.6"/>
<line x1="72.2" y1="197.67" x2="76.00" y2="197.67" stroke="#000" stroke-width="1.6"/>
<line x1="72.2" y1="172.98" x2="78.70" y2="172.98" stroke="#000" stroke-width="1.6"/>
<line x1="72.2" y1="148.29" x2="76.00" y2="148.29" stroke="#000" stroke-width="1.6"/>
<line x1="72.2" y1="123.60" x2="78.70" y2="123.60" stroke="#000" stroke-width="1.6"/>
<line x1="72.2" y1="98.92" x2="76.00" y2="98.92" stroke="#000" stroke-width="1.6"/>
<line x1="72.2" y1="74.23" x2="78.70" y2="74.23" stroke="#000" stroke-width="1.6"/>
<line x1="72.2" y1="49.54" x2="76.00" y2="49.54" stroke="#000" stroke-width="1.6"/>
<line x1="72.2" y1="24.86" x2="78.70" y2="24.86" stroke="#000" stroke-width="1.6"/>
<text x="65.60" y="325.30" font-size="12" text-anchor="end" fill="#1c1c1c" stroke="#1c1c1c" stroke-width="0.3">0</text>
<text x="62.30" y="275.93" font-size="12" text-anchor="end" fill="#1c1c1c" stroke="#1c1c1c" stroke-width="0.3">3000</text>
<text x="62.30" y="226.55" font-size="12" text-anchor="end" fill="#1c1c1c" stroke="#1c1c1c" stroke-width="0.3">6000</text>
<text x="62.30" y="177.18" font-size="12" text-anchor="end" fill="#1c1c1c" stroke="#1c1c1c" stroke-width="0.3">9000</text>
<text x="65.50" y="127.80" font-size="12" text-anchor="end" fill="#1c1c1c" stroke="#1c1c1c" stroke-width="0.3">12,000</text>
<text x="65.50" y="78.43" font-size="12" text-anchor="end" fill="#1c1c1c" stroke="#1c1c1c" stroke-width="0.3">15,000</text>
<text x="65.50" y="29.06" font-size="12" text-anchor="end" fill="#1c1c1c" stroke="#1c1c1c" stroke-width="0.3">18,000</text>
<line x1="302.80" y1="320.9" x2="302.80" y2="314.40" stroke="#000" stroke-width="1.6"/>
<text x="302.80" y="337.90" font-size="12" text-anchor="middle" fill="#1c1c1c" stroke="#1c1c1c" stroke-width="0.3">0</text>
<line x1="321.21" y1="320.9" x2="321.21" y2="317.40" stroke="#000" stroke-width="1.6"/>
<line x1="339.62" y1="320.9" x2="339.62" y2="314.40" stroke="#000" stroke-width="1.6"/>
<text x="339.62" y="337.90" font-size="12" text-anchor="middle" fill="#1c1c1c" stroke="#1c1c1c" stroke-width="0.3">2</text>
<line x1="358.03" y1="320.9" x2="358.03" y2="317.40" stroke="#000" stroke-width="1.6"/>
<line x1="376.44" y1="320.9" x2="376.44" y2="314.40" stroke="#000" stroke-width="1.6"/>
<text x="376.44" y="337.90" font-size="12" text-anchor="middle" fill="#1c1c1c" stroke="#1c1c1c" stroke-width="0.3">4</text>
<line x1="394.85" y1="320.9" x2="394.85" y2="317.40" stroke="#000" stroke-width="1.6"/>
<line x1="413.26" y1="320.9" x2="413.26" y2="314.40" stroke="#000" stroke-width="1.6"/>
<text x="413.26" y="337.90" font-size="12" text-anchor="middle" fill="#1c1c1c" stroke="#1c1c1c" stroke-width="0.3">6</text>
<line x1="431.67" y1="320.9" x2="431.67" y2="317.40" stroke="#000" stroke-width="1.6"/>
<line x1="450.08" y1="320.9" x2="450.08" y2="314.40" stroke="#000" stroke-width="1.6"/>
<text x="450.08" y="337.90" font-size="12" text-anchor="middle" fill="#1c1c1c" stroke="#1c1c1c" stroke-width="0.3">8</text>
<line x1="468.49" y1="320.9" x2="468.49" y2="317.40" stroke="#000" stroke-width="1.6"/>
<line x1="486.90" y1="320.9" x2="486.90" y2="314.40" stroke="#000" stroke-width="1.6"/>
<text x="486.90" y="337.90" font-size="12" text-anchor="middle" fill="#1c1c1c" stroke="#1c1c1c" stroke-width="0.3">10</text>
<line x1="505.2" y1="321.67" x2="501.70" y2="321.67" stroke="#000" stroke-width="1.6"/>
<line x1="505.2" y1="294.70" x2="498.70" y2="294.70" stroke="#000" stroke-width="1.6"/>
<text x="512.30" y="299.00" font-size="12" text-anchor="start" fill="#1c1c1c" stroke="#1c1c1c" stroke-width="0.3">0.4</text>
<line x1="505.2" y1="267.73" x2="501.70" y2="267.73" stroke="#000" stroke-width="1.6"/>
<line x1="505.2" y1="240.76" x2="498.70" y2="240.76" stroke="#000" stroke-width="1.6"/>
<text x="512.30" y="245.06" font-size="12" text-anchor="start" fill="#1c1c1c" stroke="#1c1c1c" stroke-width="0.3">0.6</text>
<line x1="505.2" y1="213.79" x2="501.70" y2="213.79" stroke="#000" stroke-width="1.6"/>
<line x1="505.2" y1="186.82" x2="498.70" y2="186.82" stroke="#000" stroke-width="1.6"/>
<text x="512.30" y="191.12" font-size="12" text-anchor="start" fill="#1c1c1c" stroke="#1c1c1c" stroke-width="0.3">0.8</text>
<line x1="505.2" y1="159.85" x2="501.70" y2="159.85" stroke="#000" stroke-width="1.6"/>
<line x1="505.2" y1="132.88" x2="498.70" y2="132.88" stroke="#000" stroke-width="1.6"/>
<text x="512.30" y="137.18" font-size="12" text-anchor="start" fill="#1c1c1c" stroke="#1c1c1c" stroke-width="0.3">1.0</text>
<line x1="505.2" y1="105.91" x2="501.70" y2="105.91" stroke="#000" stroke-width="1.6"/>
<line x1="505.2" y1="78.94" x2="498.70" y2="78.94" stroke="#000" stroke-width="1.6"/>
<text x="512.30" y="83.24" font-size="12" text-anchor="start" fill="#1c1c1c" stroke="#1c1c1c" stroke-width="0.3">1.2</text>
<line x1="505.2" y1="51.97" x2="501.70" y2="51.97" stroke="#000" stroke-width="1.6"/>
<line x1="505.2" y1="25.00" x2="498.70" y2="25.00" stroke="#000" stroke-width="1.6"/>
<text x="512.30" y="29.30" font-size="12" text-anchor="start" fill="#1c1c1c" stroke="#1c1c1c" stroke-width="0.3">1.4</text>
<path d="M304.64 300.50V295.10M301.14 300.50H308.14" stroke="#1414dc" stroke-width="1.35" fill="none"/>
<path d="M304.64 289.70L309.94 297.90H299.34Z" fill="#1414dc"/>
<path d="M306.48 277.30V283.60M302.98 277.30H309.98" stroke="#1414dc" stroke-width="1.35" fill="none"/>
<path d="M306.48 278.20L311.78 286.40H301.18Z" fill="#1414dc"/>
<path d="M310.16 216.70V223.10M306.66 216.70H313.66" stroke="#1414dc" stroke-width="1.35" fill="none"/>
<path d="M310.16 230.00V223.10M306.66 230.00H313.66" stroke="#1414dc" stroke-width="1.35" fill="none"/>
<path d="M310.16 217.70L315.46 225.90H304.86Z" fill="#1414dc"/>
<path d="M313.85 159.80V165.20M310.35 159.80H317.35" stroke="#1414dc" stroke-width="1.35" fill="none"/>
<path d="M313.85 169.20V165.20M310.35 169.20H317.35" stroke="#1414dc" stroke-width="1.35" fill="none"/>
<path d="M313.85 159.80L319.15 168.00H308.55Z" fill="#1414dc"/>
<path d="M317.53 129.80V133.90M314.03 129.80H321.03" stroke="#1414dc" stroke-width="1.35" fill="none"/>
<path d="M317.53 128.50L322.83 136.70H312.23Z" fill="#1414dc"/>
<path d="M321.21 110.00V120.70M317.71 110.00H324.71" stroke="#1414dc" stroke-width="1.35" fill="none"/>
<path d="M321.21 130.20V120.70M317.71 130.20H324.71" stroke="#1414dc" stroke-width="1.35" fill="none"/>
<path d="M321.21 115.30L326.51 123.50H315.91Z" fill="#1414dc"/>
<path d="M339.62 83.90V92.80M336.12 83.90H343.12" stroke="#1414dc" stroke-width="1.35" fill="none"/>
<path d="M339.62 101.20V92.80M336.12 101.20H343.12" stroke="#1414dc" stroke-width="1.35" fill="none"/>
<path d="M339.62 87.40L344.92 95.60H334.32Z" fill="#1414dc"/>
<path d="M376.44 70.60V80.80M372.94 70.60H379.94" stroke="#1414dc" stroke-width="1.35" fill="none"/>
<path d="M376.44 90.50V80.80M372.94 90.50H379.94" stroke="#1414dc" stroke-width="1.35" fill="none"/>
<path d="M376.44 75.40L381.74 83.60H371.14Z" fill="#1414dc"/>
<path d="M413.26 61.70V69.40M409.76 61.70H416.76" stroke="#1414dc" stroke-width="1.35" fill="none"/>
<path d="M413.26 75.20V69.40M409.76 75.20H416.76" stroke="#1414dc" stroke-width="1.35" fill="none"/>
<path d="M413.26 64.00L418.56 72.20H407.96Z" fill="#1414dc"/>
<path d="M450.08 55.60V63.90M446.58 55.60H453.58" stroke="#1414dc" stroke-width="1.35" fill="none"/>
<path d="M450.08 72.00V63.90M446.58 72.00H453.58" stroke="#1414dc" stroke-width="1.35" fill="none"/>
<path d="M450.08 58.50L455.38 66.70H444.78Z" fill="#1414dc"/>
<path d="M486.90 57.80V64.60M483.40 57.80H490.40" stroke="#1414dc" stroke-width="1.35" fill="none"/>
<path d="M486.90 70.90V64.60M483.40 70.90H490.40" stroke="#1414dc" stroke-width="1.35" fill="none"/>
<path d="M486.90 59.20L492.20 67.40H481.60Z" fill="#1414dc"/>
<line x1="303.4" y1="107" x2="495" y2="51.3" stroke="#111" stroke-width="1.3" stroke-dasharray="1.5 1.5"/>
<line x1="324.6" y1="87.1" x2="306.7" y2="273.4" stroke="#111" stroke-width="1.3" stroke-dasharray="1.5 1.5"/>
<line x1="216.7" y1="48.60" x2="242.2" y2="48.60" stroke="#e8a048" stroke-width="1.6"/>
<text x="244.50" y="53.00" font-size="11" text-anchor="start" fill="#555" >0.1 mM</text>
<line x1="216.7" y1="62.10" x2="242.2" y2="62.10" stroke="#383890" stroke-width="1.6"/>
<text x="244.50" y="66.50" font-size="11" text-anchor="start" fill="#555" >0.2 mM</text>
<line x1="216.7" y1="75.60" x2="242.2" y2="75.60" stroke="#208830" stroke-width="1.6"/>
<text x="244.50" y="80.00" font-size="11" text-anchor="start" fill="#555" >0.4 mM</text>
<line x1="216.7" y1="89.10" x2="242.2" y2="89.10" stroke="#e83898" stroke-width="1.6"/>
<text x="244.50" y="93.50" font-size="11" text-anchor="start" fill="#555" >0.6 mM</text>
<line x1="216.7" y1="102.60" x2="242.2" y2="102.60" stroke="#801818" stroke-width="1.6"/>
<text x="244.50" y="107.00" font-size="11" text-anchor="start" fill="#555" >0.8 mM</text>
<line x1="216.7" y1="116.10" x2="242.2" y2="116.10" stroke="#303080" stroke-width="1.6"/>
<text x="244.50" y="120.50" font-size="11" text-anchor="start" fill="#555" >1 mM</text>
<line x1="216.7" y1="129.60" x2="242.2" y2="129.60" stroke="#a8a070" stroke-width="1.6"/>
<text x="244.50" y="134.00" font-size="11" text-anchor="start" fill="#555" >2 mM</text>
<line x1="216.7" y1="143.10" x2="242.2" y2="143.10" stroke="#e020e0" stroke-width="1.6"/>
<text x="244.50" y="147.50" font-size="11" text-anchor="start" fill="#555" >4 mM</text>
<line x1="216.7" y1="156.60" x2="242.2" y2="156.60" stroke="#207878" stroke-width="1.6"/>
<text x="244.50" y="161.00" font-size="11" text-anchor="start" fill="#555" >6 mM</text>
<line x1="216.7" y1="170.10" x2="242.2" y2="170.10" stroke="#7070d0" stroke-width="1.6"/>
<text x="244.50" y="174.50" font-size="11" text-anchor="start" fill="#555" >8 mM</text>
<line x1="216.7" y1="183.60" x2="242.2" y2="183.60" stroke="#c03838" stroke-width="1.6"/>
<text x="244.50" y="188.00" font-size="11" text-anchor="start" fill="#555" >10 mM</text>
<text x="99.50" y="68.40" font-size="13.3" text-anchor="start" fill="#1c1c1c" >565 nm</text>
<text x="169.50" y="70.20" font-size="13.3" text-anchor="start" fill="#1c1c1c" >625 nm</text>
<text x="153.90" y="254.30" font-size="11" text-anchor="start" fill="#555" >0.1 mM</text>
<text x="130.00" y="270.00" font-size="13.4" text-anchor="start" fill="#1c1c1c" >Creatinine</text>
<text x="70.50" y="15.50" font-size="14" text-anchor="start" fill="#1c1c1c" >(a)</text>
<text x="295.50" y="16.20" font-size="14" text-anchor="start" fill="#1c1c1c" >(b)</text>
<text x="178.00" y="354.10" font-size="14.8" text-anchor="middle" fill="#1c1c1c" >Emission wavelength [nm]</text>
<text x="399.70" y="354.60" font-size="14.8" text-anchor="middle" fill="#1c1c1c" >Creatinine [mM]</text>
<text x="0.00" y="0.00" font-size="14.8" text-anchor="start" fill="#1c1c1c" transform="translate(14.6 265.6) rotate(-90)">Fluorescence intensity [a.u.]</text>
<text font-size="15.05" fill="#1c1c1c" transform="translate(549.4 277.4) rotate(-90)">Ratio of Fl.intensities, FI<tspan font-size="9.2" dy="6.6">565</tspan><tspan dy="-6.6">/FI</tspan><tspan font-size="9.2" dy="6.6">625</tspan></text>
</svg></body></html>
